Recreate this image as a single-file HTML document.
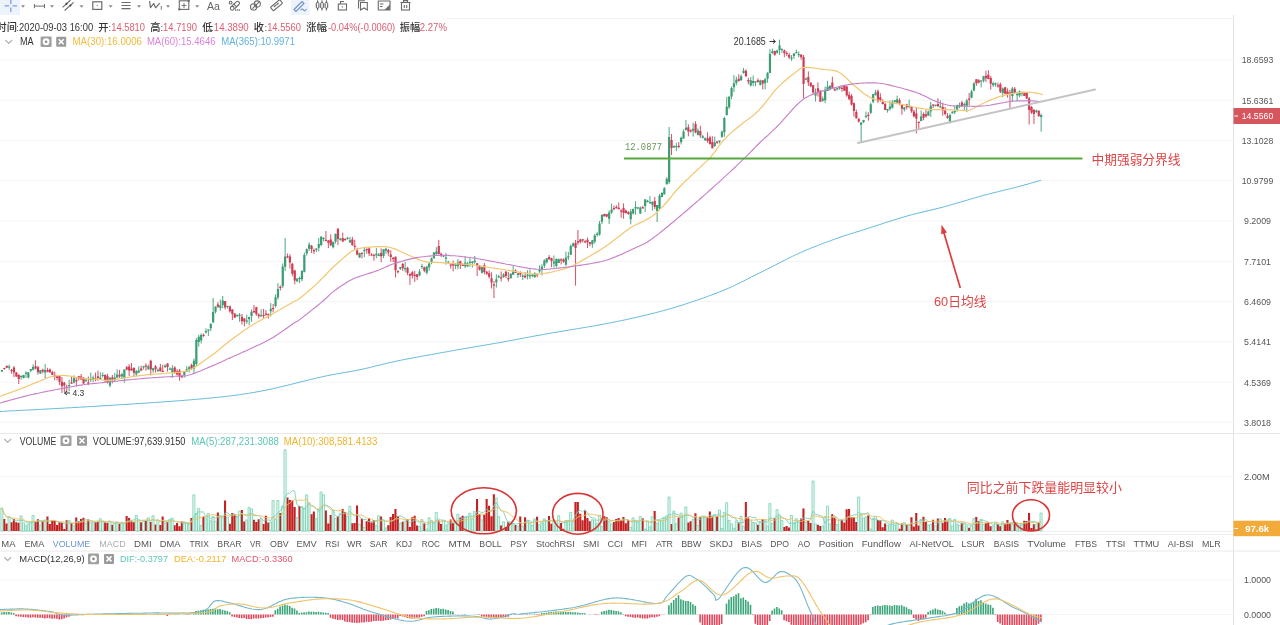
<!DOCTYPE html>
<html><head><meta charset="utf-8"><title>chart</title>
<style>html,body{margin:0;padding:0;background:#fff;width:1280px;height:625px;overflow:hidden;position:relative} #wrap{position:absolute;left:0;top:0;width:1280px;height:625px;filter:blur(0.5px)}</style>
</head><body><div id="wrap">
<svg width="1280" height="625" viewBox="0 0 1280 625" style="position:absolute;left:0;top:0">
<line x1="0" y1="59.9" x2="1234" y2="59.9" stroke="#f4f4f4" stroke-width="1"/>
<line x1="0" y1="100.2" x2="1234" y2="100.2" stroke="#f4f4f4" stroke-width="1"/>
<line x1="0" y1="140.5" x2="1234" y2="140.5" stroke="#f4f4f4" stroke-width="1"/>
<line x1="0" y1="180.7" x2="1234" y2="180.7" stroke="#f4f4f4" stroke-width="1"/>
<line x1="0" y1="221.0" x2="1234" y2="221.0" stroke="#f4f4f4" stroke-width="1"/>
<line x1="0" y1="261.3" x2="1234" y2="261.3" stroke="#f4f4f4" stroke-width="1"/>
<line x1="0" y1="301.6" x2="1234" y2="301.6" stroke="#f4f4f4" stroke-width="1"/>
<line x1="0" y1="341.9" x2="1234" y2="341.9" stroke="#f4f4f4" stroke-width="1"/>
<line x1="0" y1="382.1" x2="1234" y2="382.1" stroke="#f4f4f4" stroke-width="1"/>
<line x1="0" y1="422.4" x2="1234" y2="422.4" stroke="#f4f4f4" stroke-width="1"/>
<line x1="447" y1="18.5" x2="1234" y2="18.5" stroke="#f2f2f2"/>
<line x1="0" y1="476.5" x2="1234" y2="476.5" stroke="#f4f4f4"/>
<line x1="0" y1="580" x2="1234" y2="580" stroke="#f4f4f4"/>
<line x1="0" y1="614.5" x2="1234" y2="614.5" stroke="#f4f4f4"/>
<line x1="0" y1="433.5" x2="1280" y2="433.5" stroke="#e8e8e8"/>
<line x1="0" y1="531.5" x2="1234" y2="531.5" stroke="#eeeeee"/>
<line x1="0" y1="534.5" x2="1234" y2="534.5" stroke="#ececec"/>
<line x1="0" y1="551" x2="1280" y2="551" stroke="#e8e8e8"/>
<line x1="1233.5" y1="15" x2="1233.5" y2="625" stroke="#e3e3e3"/>
<path d="M0.0,411.5 L1.0,411.4 L2.2,411.4 L3.3,411.3 L4.6,411.3 L6.0,411.2 L7.4,411.1 L8.8,411.0 L10.4,410.9 L11.9,410.9 L13.6,410.8 L15.3,410.7 L17.1,410.6 L18.9,410.5 L20.7,410.4 L22.6,410.3 L24.6,410.2 L26.6,410.1 L28.6,410.0 L30.7,409.9 L32.8,409.8 L34.9,409.7 L37.1,409.5 L39.3,409.4 L41.5,409.3 L43.8,409.2 L46.0,409.1 L48.3,408.9 L50.6,408.8 L52.9,408.7 L55.2,408.6 L57.5,408.4 L59.9,408.3 L62.2,408.2 L64.5,408.1 L66.9,407.9 L69.2,407.8 L71.5,407.7 L73.8,407.5 L76.1,407.4 L78.4,407.3 L80.7,407.2 L82.9,407.0 L85.2,406.9 L87.4,406.8 L89.5,406.6 L91.7,406.5 L93.8,406.4 L95.9,406.3 L98.0,406.1 L100.0,406.0 L102.0,405.9 L104.0,405.7 L106.1,405.6 L108.1,405.5 L110.2,405.4 L112.3,405.2 L114.3,405.1 L116.4,405.0 L118.5,404.8 L120.6,404.7 L122.8,404.6 L124.9,404.4 L127.0,404.3 L129.1,404.2 L131.3,404.0 L133.4,403.9 L135.5,403.8 L137.7,403.6 L139.8,403.5 L141.9,403.3 L144.0,403.2 L146.2,403.1 L148.3,402.9 L150.4,402.8 L152.5,402.6 L154.6,402.5 L156.7,402.4 L158.8,402.2 L160.8,402.1 L162.9,401.9 L164.9,401.8 L166.9,401.6 L169.0,401.5 L171.0,401.3 L172.9,401.2 L174.9,401.1 L176.8,400.9 L178.8,400.8 L180.7,400.6 L182.6,400.5 L184.4,400.3 L186.3,400.2 L188.1,400.0 L189.9,399.9 L191.6,399.7 L193.4,399.6 L195.1,399.4 L196.7,399.3 L198.4,399.1 L200.0,399.0 L202.6,398.8 L205.2,398.5 L207.6,398.3 L210.0,398.1 L212.3,397.8 L214.5,397.6 L216.7,397.4 L218.8,397.2 L220.9,397.0 L222.9,396.7 L224.8,396.5 L226.8,396.3 L228.6,396.1 L230.5,395.9 L232.3,395.6 L234.2,395.4 L236.0,395.2 L237.7,394.9 L239.5,394.7 L241.3,394.4 L243.1,394.1 L244.9,393.9 L246.7,393.6 L248.5,393.3 L250.3,393.0 L252.2,392.7 L254.1,392.4 L256.0,392.0 L258.0,391.7 L260.0,391.3 L262.0,390.9 L264.0,390.5 L266.1,390.1 L268.1,389.7 L270.2,389.3 L272.3,388.8 L274.4,388.3 L276.6,387.8 L278.7,387.3 L280.9,386.8 L283.0,386.3 L285.2,385.8 L287.3,385.3 L289.5,384.7 L291.6,384.2 L293.7,383.7 L295.8,383.2 L297.9,382.6 L300.0,382.1 L302.1,381.6 L304.1,381.1 L306.1,380.6 L308.1,380.1 L310.0,379.6 L311.9,379.2 L313.8,378.7 L315.6,378.3 L317.4,377.8 L319.2,377.4 L320.9,377.1 L322.5,376.7 L325.2,376.1 L327.7,375.6 L330.2,375.1 L332.5,374.7 L334.6,374.3 L336.7,373.9 L338.8,373.5 L340.7,373.2 L342.6,372.9 L344.5,372.6 L346.3,372.2 L348.2,371.9 L350.1,371.6 L351.9,371.3 L353.9,370.9 L355.8,370.5 L357.9,370.1 L360.0,369.7 L361.9,369.3 L363.8,368.9 L365.7,368.4 L367.6,368.0 L369.5,367.6 L371.4,367.1 L373.2,366.6 L375.1,366.2 L377.0,365.7 L378.9,365.2 L380.9,364.8 L382.9,364.3 L384.9,363.8 L386.9,363.3 L389.1,362.8 L391.2,362.3 L393.5,361.8 L395.8,361.3 L398.1,360.8 L400.6,360.3 L402.4,359.9 L404.2,359.6 L406.1,359.2 L408.0,358.8 L410.0,358.5 L412.0,358.1 L414.1,357.7 L416.2,357.3 L418.3,356.9 L420.4,356.5 L422.6,356.1 L424.8,355.7 L427.0,355.3 L429.2,354.9 L431.4,354.5 L433.7,354.1 L435.9,353.7 L438.0,353.3 L440.2,352.9 L442.4,352.5 L444.5,352.2 L446.6,351.8 L448.7,351.4 L450.7,351.1 L452.6,350.7 L454.6,350.4 L456.4,350.0 L458.3,349.7 L460.0,349.4 L462.4,349.0 L464.7,348.6 L466.9,348.2 L469.1,347.8 L471.1,347.5 L473.1,347.1 L475.0,346.8 L476.8,346.5 L478.7,346.2 L480.5,345.9 L482.3,345.6 L484.1,345.3 L485.9,344.9 L487.8,344.6 L489.6,344.3 L491.6,344.0 L493.6,343.6 L495.6,343.3 L497.8,342.9 L500.0,342.5 L501.9,342.2 L503.7,341.8 L505.7,341.5 L507.6,341.1 L509.6,340.7 L511.7,340.4 L513.7,340.0 L515.8,339.6 L517.9,339.2 L520.0,338.8 L522.1,338.4 L524.2,338.0 L526.3,337.6 L528.5,337.2 L530.6,336.8 L532.8,336.4 L534.9,336.0 L537.1,335.6 L539.2,335.2 L541.3,334.9 L543.4,334.5 L545.5,334.1 L547.5,333.7 L549.6,333.4 L551.6,333.0 L553.7,332.6 L555.8,332.3 L557.9,331.9 L559.9,331.6 L562.0,331.2 L564.1,330.9 L566.2,330.5 L568.3,330.2 L570.4,329.8 L572.4,329.5 L574.5,329.2 L576.5,328.8 L578.6,328.5 L580.6,328.2 L582.6,327.8 L584.6,327.5 L586.6,327.2 L588.6,326.8 L590.5,326.5 L592.5,326.2 L594.4,325.8 L596.3,325.5 L598.1,325.1 L600.0,324.8 L602.2,324.4 L604.3,324.0 L606.5,323.6 L608.5,323.2 L610.6,322.8 L612.6,322.4 L614.6,322.0 L616.6,321.6 L618.6,321.2 L620.5,320.8 L622.5,320.4 L624.4,320.0 L626.3,319.6 L628.3,319.2 L630.2,318.7 L632.1,318.3 L634.1,317.9 L636.0,317.4 L638.0,317.0 L640.0,316.5 L642.0,316.0 L644.0,315.5 L646.0,315.1 L647.9,314.6 L649.9,314.1 L651.9,313.6 L653.9,313.1 L655.8,312.6 L657.8,312.1 L659.8,311.6 L661.7,311.1 L663.7,310.5 L665.7,310.0 L667.7,309.4 L669.7,308.9 L671.8,308.3 L673.8,307.7 L675.8,307.1 L677.9,306.4 L680.0,305.8 L682.0,305.2 L684.1,304.5 L686.1,303.8 L688.2,303.1 L690.4,302.4 L692.5,301.7 L694.7,301.0 L696.8,300.3 L699.0,299.5 L701.2,298.7 L703.3,298.0 L705.5,297.2 L707.6,296.4 L709.7,295.6 L711.8,294.9 L713.9,294.1 L716.0,293.3 L718.0,292.5 L719.9,291.7 L721.9,291.0 L723.8,290.2 L726.0,289.3 L728.2,288.3 L730.3,287.4 L732.3,286.5 L734.3,285.6 L736.2,284.6 L738.1,283.7 L740.0,282.8 L741.9,281.8 L743.8,280.9 L745.7,279.9 L747.6,279.0 L749.6,278.0 L751.6,276.9 L753.7,275.9 L755.8,274.8 L758.0,273.8 L759.8,272.8 L761.7,271.9 L763.7,270.9 L765.6,269.9 L767.7,268.9 L769.7,267.9 L771.7,266.8 L773.8,265.8 L775.9,264.7 L778.0,263.6 L780.1,262.5 L782.2,261.5 L784.3,260.4 L786.4,259.4 L788.4,258.3 L790.5,257.3 L792.5,256.3 L794.5,255.4 L796.5,254.5 L798.4,253.6 L800.3,252.7 L802.6,251.7 L804.9,250.7 L807.2,249.7 L809.5,248.8 L811.7,247.8 L813.9,247.0 L816.2,246.1 L818.4,245.2 L820.5,244.4 L822.6,243.6 L824.7,242.8 L826.8,242.1 L828.8,241.3 L830.7,240.6 L832.6,239.9 L834.5,239.3 L836.2,238.6 L838.8,237.7 L841.0,236.9 L843.0,236.2 L844.8,235.6 L846.6,235.1 L848.3,234.5 L850.2,234.0 L852.2,233.3 L854.4,232.6 L857.0,231.8 L860.0,230.9 L861.6,230.4 L863.3,229.9 L865.0,229.3 L866.9,228.7 L868.8,228.1 L870.8,227.4 L872.9,226.7 L875.0,226.1 L877.1,225.4 L879.3,224.7 L881.5,224.0 L883.7,223.3 L885.9,222.5 L888.2,221.8 L890.4,221.1 L892.6,220.4 L894.8,219.8 L896.9,219.1 L899.0,218.4 L901.1,217.8 L903.1,217.2 L905.0,216.6 L906.9,216.1 L909.2,215.4 L911.5,214.8 L913.7,214.2 L915.8,213.7 L917.9,213.2 L920.0,212.7 L922.0,212.2 L924.0,211.7 L926.0,211.2 L928.0,210.7 L930.0,210.3 L932.0,209.8 L934.0,209.3 L936.0,208.8 L938.1,208.3 L940.1,207.8 L942.3,207.3 L944.4,206.7 L946.4,206.2 L948.4,205.6 L950.4,205.0 L952.5,204.4 L954.6,203.8 L956.6,203.2 L958.8,202.6 L960.9,202.0 L963.0,201.4 L965.1,200.7 L967.2,200.1 L969.3,199.5 L971.4,198.9 L973.4,198.3 L975.4,197.7 L977.4,197.1 L979.4,196.6 L981.3,196.0 L983.2,195.5 L985.0,195.0 L987.4,194.4 L989.7,193.8 L991.9,193.2 L994.2,192.6 L996.3,192.1 L998.5,191.6 L1000.6,191.1 L1002.6,190.6 L1004.6,190.1 L1006.6,189.6 L1008.6,189.1 L1010.5,188.6 L1012.5,188.2 L1014.4,187.7 L1016.2,187.2 L1018.6,186.6 L1021.1,185.9 L1023.5,185.2 L1026.0,184.5 L1028.4,183.9 L1030.7,183.2 L1032.9,182.6 L1035.0,182.0 L1036.9,181.4 L1038.6,181.0 L1040.1,180.5 L1041.2,180.2" fill="none" stroke="#62b9d9" stroke-width="1"/>
<path d="M1.95,369.9V372.0M9.15,364.6V369.9M21.15,375.7V379.7M23.55,374.8V378.4M25.95,371.2V377.9M28.35,372.1V378.5M30.75,369.0V372.2M33.15,364.3V370.5M40.35,370.1V374.0M45.15,364.0V378.6M69.15,379.9V391.3M73.95,375.3V383.5M85.95,378.5V381.5M90.75,372.7V382.0M93.15,375.6V382.1M100.35,372.3V379.2M102.75,372.4V377.5M109.95,377.2V387.3M114.75,372.9V381.7M117.15,369.4V378.2M121.95,372.8V379.3M124.35,369.2V382.6M136.35,370.1V376.4M138.75,366.3V373.2M143.55,365.9V369.6M148.35,364.5V369.7M153.15,367.8V372.7M157.95,368.4V371.8M165.15,364.3V367.7M169.95,367.4V369.8M172.35,365.2V377.9M184.35,371.3V377.6M186.75,366.2V371.8M189.15,366.0V372.4M193.95,358.4V372.7M196.35,338.0V366.0M198.75,334.8V346.8M201.15,333.4V343.5M205.95,328.4V333.4M208.35,329.3V336.0M210.75,323.5V331.2M213.15,298.0V323.2M215.55,306.5V313.5M220.35,299.6V310.6M222.75,296.0V308.3M227.55,305.6V308.5M237.15,314.4V316.6M239.55,313.0V321.7M246.75,314.7V323.8M249.15,316.6V325.2M251.55,309.3V321.9M261.15,309.2V316.6M270.75,303.1V316.5M275.55,294.4V307.6M277.95,283.1V299.6M282.75,263.4V287.9M285.15,238.0V271.0M297.15,278.6V281.6M299.55,276.7V283.1M301.95,270.1V281.3M304.35,252.6V272.4M306.75,248.4V255.7M309.15,242.4V250.9M316.35,248.0V252.0M318.75,238.0V251.4M321.15,236.2V246.3M323.55,237.5V241.4M333.15,241.8V248.4M335.55,233.7V243.6M340.35,237.8V240.6M347.55,236.8V239.6M349.95,236.9V243.0M359.55,252.8V257.8M364.35,247.5V257.2M376.35,247.8V258.3M378.75,253.0V256.2M383.55,249.2V258.1M385.95,247.8V253.9M400.35,266.8V270.1M405.15,261.9V272.2M419.55,269.1V276.2M421.95,263.7V268.9M426.75,266.2V274.5M429.15,262.2V270.8M431.55,257.5V264.2M433.95,252.0V258.7M436.35,247.2V255.7M443.55,254.8V257.2M445.95,253.0V264.7M448.35,261.3V263.7M455.55,262.9V269.1M457.95,259.1V269.2M465.15,256.5V268.2M467.55,262.1V266.8M469.95,257.7V266.7M472.35,261.0V267.6M474.75,256.0V263.8M481.95,266.9V273.5M496.35,274.3V287.7M498.75,274.7V278.3M503.55,273.2V277.8M510.75,273.3V278.4M513.15,266.0V275.1M517.95,273.0V278.0M522.75,274.1V280.0M527.55,270.3V279.4M529.95,269.4V278.9M532.35,273.6V277.2M534.75,272.2V277.6M539.55,265.4V272.9M541.95,264.3V275.5M544.35,259.4V268.1M546.75,258.0V263.5M553.95,255.5V267.5M556.35,258.3V267.5M558.75,258.4V263.1M565.95,251.6V265.7M568.35,251.9V260.1M570.75,244.4V255.1M573.15,242.3V246.5M592.35,240.1V247.8M594.75,233.9V243.6M597.15,232.1V236.7M599.55,220.9V235.6M601.95,214.6V224.0M609.15,210.4V224.1M611.55,203.6V213.9M630.75,209.0V224.3M633.15,208.5V214.4M635.55,201.2V214.7M637.95,206.8V209.3M640.35,206.5V213.9M645.15,199.0V212.0M647.55,199.8V202.5M649.95,196.1V203.8M652.35,201.2V210.7M657.15,204.8V222.0M659.55,193.9V209.1M661.95,192.1V197.2M664.35,187.1V194.4M666.75,177.3V184.5M669.15,127.0V184.0M673.95,145.8V148.2M676.35,142.8V150.9M681.15,136.6V144.5M683.55,129.4V138.7M685.95,120.0V130.3M693.15,122.7V136.5M697.95,128.3V135.5M702.75,134.8V138.6M705.15,137.2V140.8M714.75,136.6V146.9M719.55,140.5V143.5M721.95,130.6V138.1M724.35,116.8V136.8M726.75,97.0V115.6M729.15,95.8V109.1M731.55,86.5V99.2M733.95,75.0V92.1M736.35,76.7V85.3M741.15,74.6V81.0M743.55,68.0V73.7M750.75,77.1V86.5M753.15,75.5V86.3M755.55,81.2V86.3M760.35,79.7V85.5M765.15,77.8V89.3M767.55,72.3V82.7M769.95,49.2V73.2M772.35,48.6V53.9M777.15,49.6V53.5M779.55,39.6V54.8M781.95,48.3V52.8M791.55,55.1V60.9M793.95,53.0V58.9M796.35,49.7V53.3M798.75,51.4V57.3M805.95,77.6V79.8M815.55,88.5V101.6M822.75,96.5V101.6M825.15,86.5V103.1M827.55,80.8V91.1M829.95,85.3V90.4M837.15,87.8V90.6M839.55,86.7V89.7M861.15,122.0V143.0M863.55,119.8V123.1M865.95,111.5V118.2M870.75,102.6V114.2M873.15,94.0V103.1M875.55,90.0V95.3M887.55,108.8V112.6M889.95,100.5V110.7M892.35,100.2V108.6M894.75,100.0V102.3M897.15,95.7V102.8M904.35,106.9V111.5M909.15,99.7V108.3M921.15,110.5V121.3M928.35,110.6V115.9M930.75,101.9V116.8M935.55,104.7V106.5M940.35,100.3V107.7M949.95,113.5V123.5M952.35,111.3V113.9M954.75,105.7V114.2M957.15,104.7V111.7M959.55,102.5V108.2M964.35,102.5V110.2M966.75,98.9V112.1M971.55,89.8V98.3M973.95,82.0V91.3M981.15,80.2V87.3M983.55,75.9V82.5M993.15,81.8V86.8M995.55,82.6V86.8M1002.75,87.5V97.3M1012.35,86.8V102.0M1017.15,91.6V101.3M1019.55,90.3V97.2M1021.95,91.7V96.3M1036.35,109.5V113.0M1041.15,113.5V131.7" stroke="#3a9d74" stroke-width="0.9" fill="none"/>
<path d="M0.85,370.0h2.2v1.5h-2.2zM8.05,366.5h2.2v1.2h-2.2zM20.05,375.7h2.2v1.2h-2.2zM22.45,375.0h2.2v3.0h-2.2zM24.85,372.8h2.2v1.2h-2.2zM27.25,372.3h2.2v5.1h-2.2zM29.65,369.0h2.2v1.7h-2.2zM32.05,366.8h2.2v3.0h-2.2zM39.25,370.1h2.2v3.3h-2.2zM44.05,370.0h2.2v2.6h-2.2zM68.05,384.9h2.2v1.2h-2.2zM72.85,377.9h2.2v4.7h-2.2zM84.85,380.1h2.2v1.2h-2.2zM89.65,378.7h2.2v1.2h-2.2zM92.05,377.4h2.2v2.2h-2.2zM99.25,377.8h2.2v1.2h-2.2zM101.65,374.9h2.2v1.2h-2.2zM108.85,377.8h2.2v7.8h-2.2zM113.65,377.6h2.2v3.0h-2.2zM116.05,374.4h2.2v3.1h-2.2zM120.85,374.2h2.2v2.4h-2.2zM123.25,369.4h2.2v8.6h-2.2zM135.25,370.9h2.2v3.3h-2.2zM137.65,370.4h2.2v2.2h-2.2zM142.45,366.3h2.2v1.3h-2.2zM147.25,366.3h2.2v2.9h-2.2zM152.05,368.3h2.2v2.2h-2.2zM156.85,369.7h2.2v1.5h-2.2zM164.05,365.4h2.2v1.9h-2.2zM168.85,368.5h2.2v1.2h-2.2zM171.25,368.2h2.2v4.1h-2.2zM183.25,371.6h2.2v3.3h-2.2zM185.65,369.2h2.2v2.3h-2.2zM188.05,367.3h2.2v1.7h-2.2zM192.85,360.8h2.2v7.9h-2.2zM195.25,340.0h2.2v24.0h-2.2zM197.65,336.8h2.2v5.2h-2.2zM200.05,335.1h2.2v5.4h-2.2zM204.85,330.9h2.2v1.6h-2.2zM207.25,329.5h2.2v1.3h-2.2zM209.65,323.7h2.2v4.5h-2.2zM212.05,312.0h2.2v10.3h-2.2zM214.45,306.6h2.2v5.2h-2.2zM219.25,305.3h2.2v2.6h-2.2zM221.65,300.6h2.2v4.5h-2.2zM226.45,305.9h2.2v1.2h-2.2zM236.05,315.1h2.2v1.2h-2.2zM238.45,314.8h2.2v1.2h-2.2zM245.65,320.5h2.2v1.2h-2.2zM248.05,317.1h2.2v2.1h-2.2zM250.45,311.7h2.2v4.2h-2.2zM260.05,315.2h2.2v1.3h-2.2zM269.65,308.7h2.2v2.5h-2.2zM274.45,297.3h2.2v8.8h-2.2zM276.85,289.1h2.2v8.4h-2.2zM281.65,266.5h2.2v19.6h-2.2zM284.05,256.6h2.2v10.2h-2.2zM296.05,278.6h2.2v2.8h-2.2zM298.45,277.9h2.2v1.2h-2.2zM300.85,270.9h2.2v8.3h-2.2zM303.25,254.9h2.2v16.8h-2.2zM305.65,249.3h2.2v4.3h-2.2zM308.05,244.4h2.2v4.4h-2.2zM315.25,248.5h2.2v1.2h-2.2zM317.65,243.9h2.2v3.8h-2.2zM320.05,236.7h2.2v8.3h-2.2zM322.45,237.8h2.2v1.3h-2.2zM332.05,241.8h2.2v5.5h-2.2zM334.45,233.8h2.2v7.7h-2.2zM339.25,238.7h2.2v1.2h-2.2zM346.45,237.7h2.2v1.2h-2.2zM348.85,240.2h2.2v2.4h-2.2zM358.45,253.0h2.2v4.6h-2.2zM363.25,250.0h2.2v1.2h-2.2zM375.25,253.8h2.2v1.4h-2.2zM377.65,254.5h2.2v1.4h-2.2zM382.45,249.3h2.2v6.8h-2.2zM384.85,248.7h2.2v2.0h-2.2zM399.25,267.1h2.2v1.7h-2.2zM404.05,267.9h2.2v1.4h-2.2zM418.45,271.6h2.2v3.6h-2.2zM420.85,265.9h2.2v1.2h-2.2zM425.65,266.4h2.2v6.3h-2.2zM428.05,263.6h2.2v3.6h-2.2zM430.45,258.2h2.2v4.2h-2.2zM432.85,252.6h2.2v5.6h-2.2zM435.25,251.4h2.2v2.7h-2.2zM442.45,255.4h2.2v1.2h-2.2zM444.85,257.5h2.2v1.2h-2.2zM447.25,261.4h2.2v1.2h-2.2zM454.45,264.6h2.2v1.5h-2.2zM456.85,262.4h2.2v3.8h-2.2zM464.05,262.5h2.2v3.7h-2.2zM466.45,263.2h2.2v3.3h-2.2zM468.85,261.7h2.2v1.2h-2.2zM471.25,261.8h2.2v1.2h-2.2zM473.65,260.5h2.2v1.7h-2.2zM480.85,267.3h2.2v5.5h-2.2zM495.25,279.3h2.2v3.0h-2.2zM497.65,276.2h2.2v1.2h-2.2zM502.45,274.6h2.2v2.5h-2.2zM509.65,273.7h2.2v4.5h-2.2zM512.05,271.4h2.2v3.3h-2.2zM516.85,273.2h2.2v1.9h-2.2zM521.65,275.6h2.2v1.2h-2.2zM526.45,274.7h2.2v1.2h-2.2zM528.85,275.2h2.2v1.2h-2.2zM531.25,274.8h2.2v1.2h-2.2zM533.65,273.5h2.2v3.7h-2.2zM538.45,269.4h2.2v2.1h-2.2zM540.85,266.4h2.2v3.2h-2.2zM543.25,260.4h2.2v5.3h-2.2zM545.65,258.3h2.2v3.9h-2.2zM552.85,261.5h2.2v2.1h-2.2zM555.25,258.9h2.2v7.1h-2.2zM557.65,259.2h2.2v3.7h-2.2zM564.85,257.6h2.2v7.2h-2.2zM567.25,256.2h2.2v1.2h-2.2zM569.65,245.9h2.2v8.8h-2.2zM572.05,243.4h2.2v2.8h-2.2zM591.25,240.3h2.2v3.9h-2.2zM593.65,235.5h2.2v6.0h-2.2zM596.05,233.7h2.2v1.2h-2.2zM598.45,223.6h2.2v11.0h-2.2zM600.85,214.8h2.2v7.0h-2.2zM608.05,212.5h2.2v6.3h-2.2zM610.45,209.6h2.2v2.9h-2.2zM629.65,211.5h2.2v7.7h-2.2zM632.05,208.9h2.2v4.5h-2.2zM634.45,207.1h2.2v1.5h-2.2zM636.85,207.4h2.2v1.2h-2.2zM639.25,207.6h2.2v5.8h-2.2zM644.05,199.5h2.2v6.5h-2.2zM646.45,200.7h2.2v1.2h-2.2zM648.85,202.1h2.2v1.2h-2.2zM651.25,202.0h2.2v2.7h-2.2zM656.05,204.9h2.2v6.0h-2.2zM658.45,195.7h2.2v12.6h-2.2zM660.85,192.9h2.2v4.0h-2.2zM663.25,188.3h2.2v6.0h-2.2zM665.65,178.8h2.2v5.4h-2.2zM668.05,137.0h2.2v45.0h-2.2zM672.85,145.8h2.2v1.4h-2.2zM675.25,146.0h2.2v1.2h-2.2zM680.05,137.7h2.2v4.6h-2.2zM682.45,131.6h2.2v6.8h-2.2zM684.85,127.8h2.2v2.3h-2.2zM692.05,128.7h2.2v2.0h-2.2zM696.85,130.5h2.2v4.4h-2.2zM701.65,136.2h2.2v1.5h-2.2zM704.05,138.2h2.2v2.0h-2.2zM713.65,142.6h2.2v3.3h-2.2zM718.45,140.6h2.2v1.2h-2.2zM720.85,131.6h2.2v5.2h-2.2zM723.25,118.1h2.2v14.2h-2.2zM725.65,106.7h2.2v8.3h-2.2zM728.05,96.7h2.2v10.6h-2.2zM730.45,87.9h2.2v8.6h-2.2zM732.85,83.2h2.2v4.1h-2.2zM735.25,79.7h2.2v3.3h-2.2zM740.05,76.3h2.2v3.6h-2.2zM742.45,70.7h2.2v2.2h-2.2zM749.65,80.3h2.2v5.2h-2.2zM752.05,81.1h2.2v1.8h-2.2zM754.45,81.3h2.2v1.2h-2.2zM759.25,80.4h2.2v4.5h-2.2zM764.05,79.2h2.2v4.1h-2.2zM766.45,72.8h2.2v5.9h-2.2zM768.85,53.9h2.2v19.1h-2.2zM771.25,51.2h2.2v1.8h-2.2zM776.05,50.6h2.2v2.1h-2.2zM778.45,45.6h2.2v4.3h-2.2zM780.85,48.9h2.2v1.2h-2.2zM790.45,57.6h2.2v1.2h-2.2zM792.85,53.6h2.2v2.5h-2.2zM795.25,52.0h2.2v1.2h-2.2zM797.65,53.9h2.2v1.3h-2.2zM804.85,78.5h2.2v1.3h-2.2zM814.45,92.2h2.2v3.3h-2.2zM821.65,98.8h2.2v1.9h-2.2zM824.05,89.7h2.2v10.5h-2.2zM826.45,86.8h2.2v4.2h-2.2zM828.85,85.7h2.2v3.9h-2.2zM836.05,88.2h2.2v1.2h-2.2zM838.45,86.8h2.2v1.8h-2.2zM860.05,122.5h2.2v2.2h-2.2zM862.45,120.0h2.2v2.1h-2.2zM864.85,115.7h2.2v1.2h-2.2zM869.65,104.2h2.2v8.6h-2.2zM872.05,94.3h2.2v7.4h-2.2zM874.45,92.6h2.2v2.6h-2.2zM886.45,109.0h2.2v1.6h-2.2zM888.85,106.5h2.2v2.6h-2.2zM891.25,102.2h2.2v5.6h-2.2zM893.65,100.3h2.2v2.0h-2.2zM896.05,99.3h2.2v3.4h-2.2zM903.25,107.4h2.2v2.2h-2.2zM908.05,105.7h2.2v1.2h-2.2zM920.05,116.5h2.2v4.4h-2.2zM927.25,111.6h2.2v4.1h-2.2zM929.65,105.8h2.2v5.6h-2.2zM934.45,104.8h2.2v1.2h-2.2zM939.25,106.3h2.2v1.2h-2.2zM948.85,115.0h2.2v8.1h-2.2zM951.25,111.8h2.2v1.2h-2.2zM953.65,111.0h2.2v1.2h-2.2zM956.05,104.9h2.2v4.7h-2.2zM958.45,104.9h2.2v1.5h-2.2zM963.25,104.1h2.2v1.2h-2.2zM965.65,100.4h2.2v5.7h-2.2zM970.45,91.5h2.2v6.3h-2.2zM972.85,83.4h2.2v7.1h-2.2zM980.05,80.4h2.2v1.2h-2.2zM982.45,76.2h2.2v4.5h-2.2zM992.05,83.3h2.2v2.0h-2.2zM994.45,83.2h2.2v1.2h-2.2zM1001.65,88.4h2.2v4.6h-2.2zM1011.25,88.4h2.2v7.6h-2.2zM1016.05,94.1h2.2v1.2h-2.2zM1018.45,91.6h2.2v3.9h-2.2zM1020.85,92.3h2.2v1.2h-2.2zM1035.25,110.5h2.2v1.5h-2.2zM1040.05,115.0h2.2v2.0h-2.2z" fill="#3a9d74"/>
<path d="M4.35,367.8V369.8M6.75,365.7V368.1M11.55,368.9V373.7M13.95,366.2V377.0M16.35,372.0V376.8M18.75,373.8V384.0M35.55,360.3V369.3M37.95,365.8V374.6M42.75,368.6V373.3M47.55,367.8V372.3M49.95,368.4V372.9M52.35,370.8V375.1M54.75,371.5V380.3M57.15,375.9V380.3M59.55,375.7V385.1M61.95,377.0V393.0M64.35,382.0V392.0M66.75,384.7V392.0M71.55,376.5V383.7M76.35,377.6V386.5M78.75,375.9V380.5M81.15,374.0V379.4M83.55,377.0V383.8M88.35,376.5V385.1M95.55,372.5V381.2M97.95,370.6V380.8M105.15,374.7V382.4M107.55,373.8V383.5M112.35,374.9V383.3M119.55,369.9V377.9M126.75,365.9V370.2M129.15,364.2V375.9M131.55,363.0V370.8M133.95,367.6V377.0M141.15,365.7V371.1M145.95,363.4V370.7M150.75,359.7V375.5M155.55,365.0V372.5M160.35,363.9V371.5M162.75,364.7V371.9M167.55,363.1V371.6M174.75,366.2V373.8M177.15,369.2V375.6M179.55,368.8V380.7M181.95,374.7V378.2M191.55,363.7V369.8M203.55,333.6V336.9M217.95,302.1V307.8M225.15,301.1V309.5M229.95,305.5V312.7M232.35,309.1V320.0M234.75,313.4V318.1M241.95,313.9V324.5M244.35,318.1V326.4M253.95,305.1V313.1M256.35,306.7V315.8M258.75,313.3V318.5M263.55,308.9V318.0M265.95,310.0V315.8M268.35,313.5V318.6M273.15,304.0V312.3M280.35,285.4V290.5M287.55,253.5V258.2M289.95,254.1V268.6M292.35,262.9V276.2M294.75,269.9V284.3M311.55,245.0V253.0M313.95,248.5V254.0M325.95,231.0V241.5M328.35,240.0V248.1M330.75,234.4V246.2M337.95,228.2V245.2M342.75,232.6V242.0M345.15,238.1V240.5M352.35,236.8V245.7M354.75,239.8V250.0M357.15,247.7V255.4M361.95,252.7V258.4M366.75,248.6V253.7M369.15,247.1V256.1M371.55,253.1V255.9M373.95,253.6V260.7M381.15,248.3V262.2M388.35,248.9V255.6M390.75,250.3V261.6M393.15,257.2V262.1M395.55,256.5V277.6M397.95,270.4V273.4M402.75,262.9V271.0M407.55,266.8V275.2M409.95,273.7V284.8M412.35,271.0V278.6M414.75,270.8V281.9M417.15,273.9V280.2M424.35,266.7V272.3M438.75,239.9V254.5M441.15,252.5V257.1M450.75,264.2V268.6M453.15,260.6V271.4M460.35,260.6V269.0M462.75,263.4V266.0M477.15,263.0V276.0M479.55,265.0V270.5M484.35,263.0V274.4M486.75,271.0V275.1M489.15,270.5V278.6M491.55,272.3V288.5M493.95,281.0V298.0M501.15,271.3V281.6M505.95,271.5V278.0M508.35,272.1V281.6M515.55,269.3V273.1M520.35,271.3V277.0M525.15,272.1V278.4M537.15,273.5V277.1M549.15,255.0V259.7M551.55,257.7V267.2M561.15,258.4V264.5M563.55,258.4V262.9M575.55,240.0V285.6M577.95,230.0V244.8M580.35,238.9V243.5M582.75,239.2V242.6M585.15,240.2V242.8M587.55,237.5V248.0M589.95,242.0V246.2M604.35,213.7V216.7M606.75,213.9V217.4M613.95,205.6V210.2M616.35,205.2V208.5M618.75,202.5V209.3M621.15,209.2V217.8M623.55,203.3V218.7M625.95,209.6V213.6M628.35,211.2V214.9M642.75,205.8V208.4M654.75,196.9V209.2M671.55,134.0V155.0M678.75,142.0V148.2M688.35,124.3V136.3M690.75,129.3V132.6M695.55,121.2V133.3M700.35,125.8V137.8M707.55,132.3V142.8M709.95,135.7V144.7M712.35,136.2V148.3M717.15,140.9V143.9M738.75,74.2V81.6M745.95,69.3V76.9M748.35,77.8V84.3M757.95,78.3V82.6M762.75,80.3V89.5M774.75,50.6V55.8M784.35,49.5V57.2M786.75,51.2V56.0M789.15,52.7V58.9M801.15,54.4V59.6M803.55,55.0V98.0M808.35,71.3V86.0M810.75,82.1V87.1M813.15,84.8V93.5M817.95,82.3V96.6M820.35,90.5V102.1M832.35,76.7V88.1M834.75,88.1V91.1M841.95,85.6V91.7M844.35,84.8V90.9M846.75,85.6V96.8M849.15,91.7V100.4M851.55,94.0V105.5M853.95,102.4V116.7M856.35,109.6V118.7M858.75,117.9V122.6M868.35,112.2V120.6M877.95,89.4V102.9M880.35,93.2V101.7M882.75,99.2V104.5M885.15,102.6V110.0M899.55,98.1V105.3M901.95,104.2V114.8M906.75,103.8V109.4M911.55,105.8V112.8M913.95,109.8V117.4M916.35,107.5V133.5M918.75,121.5V128.9M923.55,112.4V120.2M925.95,110.0V117.8M933.15,104.2V108.1M937.95,98.3V106.8M942.75,102.6V115.7M945.15,106.8V115.5M947.55,113.1V118.8M961.95,100.9V107.1M969.15,93.0V105.7M976.35,79.0V85.8M978.75,79.1V83.5M985.95,70.7V82.0M988.35,70.2V79.3M990.75,75.9V89.7M997.95,82.7V87.7M1000.35,82.6V93.1M1005.15,86.9V93.8M1007.55,88.4V97.6M1009.95,89.8V108.6M1014.75,87.0V93.3M1024.35,92.4V95.9M1026.75,92.0V99.0M1029.15,97.0V124.6M1031.55,106.0V114.0M1033.95,109.0V124.0M1038.75,110.0V117.0" stroke="#cf3d55" stroke-width="0.9" fill="none"/>
<path d="M3.25,367.9h2.2v1.2h-2.2zM5.65,365.8h2.2v1.9h-2.2zM10.45,369.9h2.2v1.2h-2.2zM12.85,367.4h2.2v5.0h-2.2zM15.25,372.4h2.2v4.0h-2.2zM17.65,375.1h2.2v3.8h-2.2zM34.45,366.3h2.2v2.3h-2.2zM36.85,367.2h2.2v5.1h-2.2zM41.65,369.8h2.2v1.6h-2.2zM46.45,369.9h2.2v1.8h-2.2zM48.85,369.6h2.2v2.6h-2.2zM51.25,372.0h2.2v3.1h-2.2zM53.65,375.2h2.2v1.2h-2.2zM56.05,376.0h2.2v2.1h-2.2zM58.45,376.3h2.2v5.5h-2.2zM60.85,381.7h2.2v4.5h-2.2zM63.25,382.8h2.2v2.6h-2.2zM65.65,386.7h2.2v1.6h-2.2zM70.45,382.5h2.2v1.2h-2.2zM75.25,380.1h2.2v1.2h-2.2zM77.65,376.3h2.2v2.3h-2.2zM80.05,376.5h2.2v2.9h-2.2zM82.45,377.8h2.2v5.7h-2.2zM87.25,382.5h2.2v1.2h-2.2zM94.45,378.5h2.2v1.2h-2.2zM96.85,376.3h2.2v1.8h-2.2zM104.05,374.8h2.2v5.2h-2.2zM106.45,376.3h2.2v5.6h-2.2zM111.25,377.2h2.2v2.9h-2.2zM118.45,374.7h2.2v1.8h-2.2zM125.65,367.3h2.2v2.2h-2.2zM128.05,366.5h2.2v3.9h-2.2zM130.45,368.4h2.2v2.1h-2.2zM132.85,367.8h2.2v5.0h-2.2zM140.05,368.5h2.2v2.0h-2.2zM144.85,365.6h2.2v1.2h-2.2zM149.65,360.7h2.2v8.8h-2.2zM154.45,366.2h2.2v3.0h-2.2zM159.25,367.6h2.2v3.7h-2.2zM161.65,370.7h2.2v1.2h-2.2zM166.45,363.4h2.2v3.5h-2.2zM173.65,367.4h2.2v5.3h-2.2zM176.05,370.9h2.2v3.5h-2.2zM178.45,370.6h2.2v6.1h-2.2zM180.85,376.0h2.2v1.2h-2.2zM190.45,365.1h2.2v3.7h-2.2zM202.45,334.8h2.2v1.2h-2.2zM216.85,304.5h2.2v2.2h-2.2zM224.05,301.1h2.2v6.3h-2.2zM228.85,306.5h2.2v4.7h-2.2zM231.25,309.4h2.2v4.6h-2.2zM233.65,313.5h2.2v3.9h-2.2zM240.85,316.8h2.2v4.4h-2.2zM243.25,318.4h2.2v3.2h-2.2zM252.85,311.1h2.2v1.2h-2.2zM255.25,307.3h2.2v6.9h-2.2zM257.65,314.4h2.2v1.8h-2.2zM262.45,314.9h2.2v1.2h-2.2zM264.85,313.5h2.2v1.2h-2.2zM267.25,314.0h2.2v1.2h-2.2zM272.05,308.1h2.2v1.2h-2.2zM279.25,286.7h2.2v1.2h-2.2zM286.45,256.3h2.2v1.2h-2.2zM288.85,256.6h2.2v6.0h-2.2zM291.25,263.7h2.2v10.0h-2.2zM293.65,270.4h2.2v10.1h-2.2zM310.45,245.7h2.2v3.5h-2.2zM312.85,250.0h2.2v1.2h-2.2zM324.85,239.8h2.2v1.2h-2.2zM327.25,240.5h2.2v2.2h-2.2zM329.65,239.6h2.2v5.7h-2.2zM336.85,228.7h2.2v10.4h-2.2zM341.65,237.9h2.2v3.7h-2.2zM344.05,238.9h2.2v1.3h-2.2zM351.25,239.4h2.2v5.8h-2.2zM353.65,245.8h2.2v1.2h-2.2zM356.05,250.4h2.2v4.0h-2.2zM360.85,252.8h2.2v1.2h-2.2zM365.65,248.8h2.2v1.2h-2.2zM368.05,248.4h2.2v5.2h-2.2zM370.45,254.4h2.2v1.2h-2.2zM372.85,254.9h2.2v1.2h-2.2zM380.05,252.9h2.2v3.3h-2.2zM387.25,249.9h2.2v2.6h-2.2zM389.65,254.6h2.2v2.3h-2.2zM392.05,257.7h2.2v1.2h-2.2zM394.45,256.7h2.2v13.5h-2.2zM396.85,271.0h2.2v1.2h-2.2zM401.65,263.9h2.2v4.3h-2.2zM406.45,267.8h2.2v5.3h-2.2zM408.85,273.7h2.2v2.0h-2.2zM411.25,272.3h2.2v3.1h-2.2zM413.65,274.7h2.2v1.2h-2.2zM416.05,274.3h2.2v2.6h-2.2zM423.25,267.3h2.2v3.5h-2.2zM437.65,245.9h2.2v8.2h-2.2zM440.05,253.8h2.2v1.7h-2.2zM449.65,264.6h2.2v1.2h-2.2zM452.05,264.1h2.2v1.4h-2.2zM459.25,261.3h2.2v3.6h-2.2zM461.65,264.8h2.2v1.2h-2.2zM476.05,263.2h2.2v2.6h-2.2zM478.45,265.7h2.2v4.1h-2.2zM483.25,265.3h2.2v6.7h-2.2zM485.65,271.7h2.2v2.0h-2.2zM488.05,273.2h2.2v3.5h-2.2zM490.45,278.3h2.2v4.2h-2.2zM492.85,284.6h2.2v1.2h-2.2zM500.05,277.3h2.2v1.2h-2.2zM504.85,271.5h2.2v4.4h-2.2zM507.25,278.1h2.2v1.2h-2.2zM514.45,270.4h2.2v2.6h-2.2zM519.25,272.7h2.2v1.9h-2.2zM524.05,275.7h2.2v1.9h-2.2zM536.05,274.0h2.2v1.2h-2.2zM548.05,257.0h2.2v2.2h-2.2zM550.45,258.3h2.2v2.8h-2.2zM560.05,259.3h2.2v1.2h-2.2zM562.45,259.6h2.2v2.2h-2.2zM574.45,243.0h2.2v5.0h-2.2zM576.85,241.2h2.2v1.6h-2.2zM579.25,239.5h2.2v2.6h-2.2zM581.65,239.2h2.2v1.2h-2.2zM584.05,241.2h2.2v1.2h-2.2zM586.45,239.8h2.2v2.5h-2.2zM588.85,242.1h2.2v1.7h-2.2zM603.25,214.1h2.2v2.1h-2.2zM605.65,214.2h2.2v2.3h-2.2zM612.85,208.1h2.2v1.2h-2.2zM615.25,206.9h2.2v1.3h-2.2zM617.65,207.7h2.2v1.5h-2.2zM620.05,210.6h2.2v1.2h-2.2zM622.45,207.9h2.2v4.8h-2.2zM624.85,210.6h2.2v2.4h-2.2zM627.25,212.3h2.2v1.8h-2.2zM641.65,207.2h2.2v1.2h-2.2zM653.65,201.0h2.2v6.0h-2.2zM670.45,140.0h2.2v8.0h-2.2zM677.65,145.7h2.2v1.2h-2.2zM687.25,127.2h2.2v4.2h-2.2zM689.65,130.2h2.2v1.2h-2.2zM694.45,124.1h2.2v8.3h-2.2zM699.25,131.0h2.2v4.5h-2.2zM706.45,138.3h2.2v2.8h-2.2zM708.85,137.5h2.2v6.5h-2.2zM711.25,142.1h2.2v6.2h-2.2zM716.05,141.6h2.2v1.2h-2.2zM737.65,78.7h2.2v2.4h-2.2zM744.85,70.7h2.2v5.5h-2.2zM747.25,79.9h2.2v1.6h-2.2zM756.85,80.2h2.2v1.8h-2.2zM761.65,80.3h2.2v3.2h-2.2zM773.65,51.1h2.2v3.7h-2.2zM783.25,50.6h2.2v2.7h-2.2zM785.65,52.9h2.2v1.2h-2.2zM788.05,54.7h2.2v2.7h-2.2zM800.05,54.4h2.2v2.9h-2.2zM802.45,57.0h2.2v27.0h-2.2zM807.25,77.1h2.2v5.5h-2.2zM809.65,82.7h2.2v3.6h-2.2zM812.05,85.3h2.2v7.3h-2.2zM816.85,88.3h2.2v3.5h-2.2zM819.25,90.5h2.2v11.3h-2.2zM831.25,82.6h2.2v5.1h-2.2zM833.65,89.2h2.2v1.2h-2.2zM840.85,87.8h2.2v1.2h-2.2zM843.25,85.2h2.2v5.6h-2.2zM845.65,86.6h2.2v8.9h-2.2zM848.05,94.8h2.2v4.1h-2.2zM850.45,95.9h2.2v8.7h-2.2zM852.85,103.3h2.2v7.8h-2.2zM855.25,111.9h2.2v6.4h-2.2zM857.65,118.9h2.2v2.7h-2.2zM867.25,114.7h2.2v1.2h-2.2zM876.85,91.3h2.2v10.0h-2.2zM879.25,97.3h2.2v3.1h-2.2zM881.65,101.9h2.2v2.2h-2.2zM884.05,103.9h2.2v6.0h-2.2zM898.45,100.2h2.2v3.2h-2.2zM900.85,104.2h2.2v4.6h-2.2zM905.65,104.5h2.2v2.8h-2.2zM910.45,107.1h2.2v4.1h-2.2zM912.85,111.6h2.2v4.6h-2.2zM915.25,113.5h2.2v4.9h-2.2zM917.65,121.7h2.2v1.2h-2.2zM922.45,114.0h2.2v3.7h-2.2zM924.85,114.3h2.2v1.9h-2.2zM932.05,104.4h2.2v1.4h-2.2zM936.85,103.9h2.2v2.4h-2.2zM941.65,107.0h2.2v3.6h-2.2zM944.05,110.5h2.2v3.5h-2.2zM946.45,116.0h2.2v2.0h-2.2zM960.85,102.6h2.2v3.6h-2.2zM968.05,98.4h2.2v1.3h-2.2zM975.25,79.2h2.2v4.0h-2.2zM977.65,80.3h2.2v2.1h-2.2zM984.85,75.8h2.2v2.4h-2.2zM987.25,74.7h2.2v4.2h-2.2zM989.65,77.9h2.2v5.8h-2.2zM996.85,85.2h2.2v1.2h-2.2zM999.25,84.2h2.2v7.6h-2.2zM1004.05,87.3h2.2v6.5h-2.2zM1006.45,91.4h2.2v2.8h-2.2zM1008.85,92.6h2.2v1.2h-2.2zM1013.65,88.8h2.2v4.2h-2.2zM1023.25,92.9h2.2v3.0h-2.2zM1025.65,93.0h2.2v5.4h-2.2zM1028.05,98.4h2.2v11.6h-2.2zM1030.45,107.0h2.2v5.5h-2.2zM1032.85,110.0h2.2v4.0h-2.2zM1037.65,111.0h2.2v5.0h-2.2z" fill="#cf3d55"/>
<path d="M0.0,396.4 L1.2,396.0 L2.7,395.4 L4.5,394.7 L6.6,394.0 L8.8,393.2 L11.0,392.4 L13.4,391.5 L15.7,390.6 L17.9,389.8 L20.0,389.0 L22.0,388.2 L24.2,387.4 L26.3,386.5 L28.5,385.7 L30.6,384.8 L32.7,383.9 L34.7,383.1 L36.6,382.4 L38.4,381.6 L40.0,381.0 L42.6,379.9 L44.7,379.0 L46.5,378.2 L48.2,377.6 L50.0,377.0 L52.0,376.5 L54.0,376.1 L56.0,375.8 L58.0,375.6 L60.0,375.5 L62.0,375.4 L64.0,375.5 L66.0,375.6 L68.0,375.8 L70.0,376.0 L71.8,376.3 L73.5,376.7 L75.3,377.2 L77.4,377.6 L80.0,378.0 L81.6,378.2 L83.5,378.3 L85.6,378.5 L87.8,378.7 L90.0,378.8 L92.2,379.0 L94.4,379.1 L96.5,379.3 L98.4,379.4 L100.0,379.5 L102.5,379.8 L104.2,380.1 L105.8,380.3 L107.5,380.4 L110.0,380.3 L111.6,380.1 L113.4,379.9 L115.3,379.6 L117.3,379.2 L119.4,378.9 L121.5,378.5 L123.7,378.1 L125.8,377.7 L128.0,377.3 L130.0,377.0 L132.0,376.7 L134.0,376.4 L136.0,376.1 L138.0,375.9 L140.0,375.6 L142.0,375.3 L144.0,375.1 L146.0,374.8 L148.0,374.6 L150.0,374.4 L152.0,374.2 L154.0,374.1 L156.0,374.0 L158.0,373.8 L160.0,373.8 L162.0,373.6 L164.0,373.5 L166.0,373.4 L168.0,373.2 L170.0,373.0 L172.0,372.8 L174.0,372.6 L176.0,372.4 L178.0,372.3 L180.0,372.1 L181.9,371.8 L183.9,371.4 L185.9,371.0 L188.0,370.4 L190.0,369.6 L192.0,368.7 L194.1,367.6 L196.2,366.4 L198.3,365.0 L200.3,363.6 L202.4,362.1 L204.5,360.6 L206.6,359.1 L208.7,357.5 L210.8,356.0 L212.9,354.5 L215.0,352.9 L217.0,351.2 L219.1,349.5 L221.2,347.8 L223.3,346.1 L225.4,344.4 L227.4,342.7 L229.5,341.1 L231.6,339.5 L233.7,338.0 L235.8,336.4 L237.8,334.9 L239.9,333.4 L242.0,331.9 L244.1,330.5 L246.2,329.1 L248.2,327.7 L250.3,326.3 L252.4,325.0 L254.5,323.7 L256.6,322.5 L258.6,321.3 L260.7,320.2 L262.8,319.1 L264.9,318.0 L267.0,316.9 L269.0,315.8 L271.1,314.7 L273.2,313.5 L275.3,312.3 L277.6,311.0 L279.9,309.7 L282.2,308.3 L284.5,307.0 L286.7,305.7 L288.8,304.5 L290.8,303.4 L292.5,302.3 L294.0,301.5 L296.7,300.2 L297.7,299.8 L300.0,298.2 L301.6,296.9 L303.4,295.4 L305.5,293.6 L307.7,291.7 L310.0,289.7 L312.3,287.7 L314.6,285.6 L316.8,283.6 L318.9,281.6 L321.0,279.5 L323.1,277.4 L325.2,275.2 L327.3,273.0 L329.4,270.9 L331.5,268.8 L333.6,266.8 L335.8,264.8 L338.0,262.7 L340.3,260.7 L342.6,258.6 L344.8,256.7 L346.8,255.0 L348.7,253.5 L350.4,252.2 L353.6,250.2 L355.9,249.5 L358.0,249.0 L360.1,248.4 L362.1,247.9 L365.0,247.5 L366.7,247.3 L368.8,247.1 L371.0,247.0 L373.4,246.8 L375.7,246.7 L377.9,246.6 L380.0,246.6 L382.1,246.6 L384.0,246.7 L385.8,246.7 L387.6,247.0 L389.7,247.4 L392.0,248.0 L393.8,248.6 L395.8,249.4 L397.9,250.3 L400.0,251.2 L402.3,252.2 L404.5,253.3 L406.6,254.3 L408.7,255.2 L410.6,256.0 L412.9,257.0 L415.0,257.9 L417.1,258.9 L419.0,259.7 L421.0,260.5 L423.0,261.2 L425.0,261.7 L427.0,262.1 L428.9,262.3 L430.9,262.3 L432.8,262.4 L434.9,262.4 L437.0,262.4 L439.4,262.5 L441.2,262.6 L443.2,262.8 L445.3,262.9 L447.5,263.1 L449.7,263.3 L451.9,263.4 L454.1,263.6 L456.1,263.8 L458.0,263.9 L459.6,264.0 L462.3,264.1 L464.5,264.2 L466.3,264.3 L468.1,264.4 L470.0,264.5 L471.7,264.7 L473.1,264.9 L474.7,265.2 L476.8,265.5 L480.0,266.0 L481.5,266.2 L483.1,266.5 L484.9,266.7 L486.8,267.0 L488.8,267.4 L490.9,267.7 L493.0,268.0 L495.2,268.4 L497.5,268.7 L499.7,269.0 L502.0,269.4 L504.2,269.7 L506.3,270.0 L508.4,270.3 L510.4,270.6 L512.5,270.9 L514.5,271.3 L516.6,271.7 L518.7,272.1 L520.7,272.4 L522.8,272.8 L524.8,273.1 L526.9,273.4 L529.0,273.6 L531.0,273.8 L533.1,274.0 L535.1,274.0 L537.2,274.0 L539.3,273.9 L541.4,273.7 L543.5,273.5 L545.7,273.2 L547.9,272.8 L550.0,272.4 L552.2,272.0 L554.3,271.5 L556.4,271.0 L558.5,270.5 L560.5,269.9 L562.4,269.4 L564.2,268.8 L566.0,268.3 L568.6,267.4 L570.9,266.5 L573.1,265.5 L575.2,264.4 L577.2,263.3 L579.2,262.2 L581.1,261.0 L583.1,259.9 L585.2,258.7 L587.4,257.5 L589.5,256.3 L591.7,255.0 L593.9,253.7 L596.1,252.4 L598.3,251.1 L600.4,249.8 L602.4,248.5 L604.4,247.2 L606.8,245.5 L609.2,243.8 L611.4,242.2 L613.6,240.5 L615.7,238.8 L617.8,237.2 L619.8,235.7 L622.1,234.0 L624.2,232.3 L626.3,230.7 L628.4,229.2 L630.4,227.8 L632.4,226.5 L634.8,225.2 L637.2,224.1 L639.5,223.1 L641.7,222.1 L644.0,221.0 L646.2,219.8 L648.4,218.6 L650.5,217.3 L652.6,215.9 L654.8,214.2 L657.0,212.3 L659.3,210.1 L661.5,207.9 L663.8,205.5 L666.0,203.0 L668.1,200.5 L670.2,198.0 L672.2,195.3 L674.5,192.5 L677.2,189.5 L679.1,187.5 L681.2,185.3 L683.5,183.1 L685.8,180.8 L688.2,178.6 L690.5,176.3 L692.8,174.1 L695.0,172.0 L697.4,169.7 L699.7,167.6 L702.0,165.5 L704.3,163.4 L706.5,161.4 L708.6,159.2 L710.7,157.0 L713.0,154.2 L715.2,151.4 L717.3,148.4 L719.4,145.5 L721.5,142.7 L723.8,140.0 L725.8,137.9 L727.9,135.8 L730.0,133.9 L732.2,131.9 L734.5,130.0 L736.8,128.0 L739.2,126.0 L741.2,124.4 L743.2,122.8 L745.3,121.3 L747.5,119.7 L749.7,118.1 L751.9,116.4 L754.1,114.6 L756.2,112.7 L758.4,110.7 L760.5,108.4 L762.7,106.0 L764.8,103.3 L766.9,100.6 L769.1,97.8 L771.2,95.1 L773.3,92.4 L775.5,89.9 L777.6,87.6 L779.8,85.4 L782.1,83.3 L784.4,81.2 L786.8,79.2 L789.1,77.3 L791.3,75.6 L793.3,74.0 L795.2,72.5 L796.8,71.3 L799.8,68.9 L801.5,67.8 L804.5,67.4 L806.1,67.4 L808.1,67.4 L810.2,67.6 L812.5,67.8 L814.8,68.1 L817.2,68.4 L819.5,68.8 L821.7,69.1 L823.7,69.4 L826.1,69.7 L828.4,69.9 L830.5,70.0 L832.6,70.3 L834.7,70.7 L836.8,71.3 L839.0,72.3 L841.2,73.7 L843.4,75.4 L845.6,77.4 L847.8,79.5 L850.0,81.7 L852.2,83.8 L854.4,85.7 L856.6,87.5 L858.8,89.3 L861.0,91.1 L863.1,92.9 L865.3,94.5 L867.6,95.9 L869.8,97.2 L871.8,98.1 L873.8,98.9 L875.8,99.5 L877.8,100.0 L879.8,100.5 L881.9,100.9 L883.9,101.4 L886.0,101.8 L888.1,102.2 L890.1,102.6 L892.2,103.0 L894.3,103.3 L896.4,103.6 L898.6,103.9 L900.8,104.3 L903.2,104.7 L905.2,105.1 L907.2,105.5 L909.4,106.0 L911.5,106.5 L913.7,107.0 L915.9,107.5 L918.2,107.9 L920.4,108.3 L922.6,108.7 L924.8,109.0 L927.0,109.2 L929.3,109.4 L931.5,109.5 L933.8,109.5 L936.1,109.6 L938.3,109.6 L940.5,109.6 L942.6,109.6 L944.6,109.6 L946.5,109.7 L949.0,109.8 L951.3,109.9 L953.5,110.1 L955.5,110.2 L957.4,110.3 L959.2,110.4 L960.9,110.4 L963.5,110.5 L965.5,110.7 L967.6,110.6 L970.0,110.0 L971.8,109.3 L973.8,108.3 L975.8,107.2 L977.9,106.0 L980.3,104.7 L982.8,103.5 L984.6,102.7 L986.6,101.8 L988.6,100.9 L990.7,99.9 L992.9,99.0 L995.1,98.1 L997.4,97.3 L999.7,96.5 L1002.0,95.8 L1004.0,95.3 L1006.0,94.8 L1008.1,94.3 L1010.3,93.9 L1012.5,93.5 L1014.7,93.1 L1016.8,92.8 L1019.0,92.5 L1021.1,92.3 L1023.1,92.1 L1025.0,92.0 L1027.3,92.0 L1029.7,92.2 L1032.0,92.5 L1034.3,92.8 L1036.5,93.2 L1038.5,93.6 L1040.3,94.0 L1041.8,94.3 L1043.0,94.5" fill="none" stroke="#f2c873" stroke-width="1.25"/>
<path d="M0.0,403.0 L1.1,402.7 L2.5,402.3 L4.0,401.9 L5.8,401.4 L7.7,400.9 L9.7,400.3 L11.9,399.7 L14.1,399.1 L16.4,398.5 L18.7,397.9 L21.0,397.2 L23.4,396.6 L25.6,396.1 L27.9,395.5 L30.0,395.0 L32.0,394.5 L34.0,394.1 L36.1,393.6 L38.2,393.2 L40.3,392.7 L42.4,392.3 L44.6,391.9 L46.7,391.4 L48.8,391.0 L50.9,390.6 L53.0,390.2 L55.0,389.8 L57.0,389.5 L58.9,389.1 L60.7,388.7 L62.5,388.4 L64.9,387.9 L67.2,387.5 L69.3,387.1 L71.4,386.7 L73.3,386.4 L75.2,386.0 L77.1,385.7 L79.0,385.4 L81.0,385.1 L82.9,384.8 L85.0,384.5 L87.0,384.2 L88.9,384.0 L90.9,383.8 L92.9,383.6 L94.9,383.4 L97.0,383.2 L99.0,383.0 L101.0,382.8 L103.0,382.6 L105.0,382.4 L107.0,382.2 L109.0,382.0 L111.1,381.8 L113.2,381.5 L115.3,381.3 L117.4,381.1 L119.5,380.8 L121.5,380.6 L123.6,380.4 L125.7,380.1 L127.8,379.9 L129.9,379.7 L132.0,379.5 L134.0,379.3 L135.9,379.1 L137.9,379.0 L139.9,378.8 L141.9,378.6 L143.9,378.4 L145.9,378.3 L148.0,378.1 L150.0,378.0 L152.0,377.8 L154.0,377.6 L156.0,377.5 L158.0,377.4 L160.2,377.2 L162.3,377.1 L164.5,377.0 L166.7,376.8 L168.9,376.7 L171.0,376.6 L173.0,376.5 L175.0,376.3 L176.8,376.2 L178.5,376.1 L180.0,376.0 L182.7,375.9 L184.5,375.8 L185.9,375.8 L187.5,375.5 L190.0,374.8 L191.6,374.3 L193.5,373.6 L195.4,372.9 L197.5,372.0 L199.7,371.2 L202.0,370.2 L204.2,369.3 L206.5,368.3 L208.7,367.4 L210.8,366.5 L212.9,365.6 L215.0,364.7 L217.0,363.8 L219.1,362.9 L221.2,361.9 L223.3,361.0 L225.4,360.0 L227.4,359.1 L229.5,358.1 L231.6,357.2 L233.7,356.3 L235.8,355.3 L237.8,354.4 L239.9,353.5 L242.0,352.6 L244.1,351.6 L246.2,350.7 L248.2,349.7 L250.3,348.8 L252.4,347.8 L254.5,346.8 L256.6,345.8 L258.6,344.9 L260.7,343.9 L262.8,342.9 L264.9,341.9 L267.0,340.8 L269.0,339.8 L271.1,338.6 L273.2,337.4 L275.3,336.1 L277.6,334.6 L279.9,333.0 L282.2,331.4 L284.5,329.8 L286.7,328.2 L288.8,326.7 L290.8,325.3 L292.5,324.0 L294.0,323.0 L296.5,321.5 L297.3,321.3 L300.0,319.4 L301.5,318.3 L303.2,316.9 L305.2,315.3 L307.4,313.6 L309.7,311.8 L312.1,309.9 L314.4,308.0 L316.7,306.2 L318.8,304.5 L320.7,302.9 L322.4,301.5 L325.3,299.0 L327.4,297.0 L329.3,295.1 L331.2,293.4 L333.6,291.4 L335.5,290.0 L337.5,288.5 L339.7,287.0 L342.0,285.4 L344.3,284.0 L346.5,282.5 L348.5,281.3 L350.4,280.2 L352.9,278.9 L355.0,278.0 L357.0,277.3 L359.1,276.6 L361.6,275.8 L363.4,275.2 L365.5,274.5 L367.6,273.8 L369.8,273.1 L372.0,272.4 L374.2,271.7 L376.4,270.9 L378.4,270.2 L380.6,269.3 L382.6,268.4 L384.7,267.5 L386.6,266.6 L388.7,265.7 L390.8,264.8 L393.0,264.0 L395.1,263.3 L397.3,262.6 L399.6,261.9 L401.9,261.2 L404.2,260.6 L406.5,259.9 L408.6,259.4 L410.6,258.9 L412.9,258.4 L415.0,257.9 L416.9,257.6 L418.8,257.3 L421.0,257.0 L423.6,256.7 L425.4,256.5 L427.2,256.3 L429.2,256.1 L431.2,255.9 L433.3,255.7 L435.5,255.5 L437.8,255.4 L440.1,255.3 L442.5,255.3 L445.0,255.3 L446.8,255.4 L448.7,255.4 L450.6,255.6 L452.6,255.7 L454.6,255.8 L456.6,256.0 L458.7,256.2 L460.8,256.4 L462.9,256.7 L465.1,256.9 L467.3,257.2 L469.5,257.5 L471.7,257.8 L474.0,258.1 L475.9,258.4 L477.8,258.7 L479.8,259.0 L481.8,259.4 L483.9,259.8 L486.0,260.2 L488.1,260.6 L490.2,261.0 L492.3,261.4 L494.4,261.8 L496.5,262.2 L498.5,262.6 L500.6,263.0 L502.6,263.4 L504.6,263.8 L506.5,264.2 L508.4,264.5 L510.7,264.9 L512.9,265.3 L515.1,265.7 L517.3,266.2 L519.5,266.6 L521.6,267.0 L523.8,267.4 L525.8,267.7 L527.9,268.1 L529.8,268.4 L531.8,268.7 L533.6,268.9 L535.5,269.1 L537.2,269.3 L539.7,269.5 L541.9,269.5 L544.0,269.5 L545.9,269.4 L547.7,269.3 L549.6,269.1 L551.7,268.8 L553.9,268.6 L556.4,268.3 L558.2,268.1 L560.1,267.9 L562.1,267.7 L564.2,267.4 L566.4,267.1 L568.6,266.9 L570.8,266.6 L573.0,266.3 L575.2,266.0 L577.4,265.7 L579.5,265.4 L581.5,265.1 L583.4,264.8 L585.2,264.5 L587.8,264.1 L590.2,263.7 L592.5,263.3 L594.6,262.9 L596.7,262.5 L598.6,262.1 L600.6,261.7 L602.5,261.2 L604.4,260.7 L606.8,260.0 L609.1,259.2 L611.3,258.5 L613.4,257.6 L615.5,256.8 L617.6,255.9 L619.8,255.0 L622.0,254.1 L624.2,253.1 L626.3,252.1 L628.5,251.1 L630.7,250.1 L632.8,249.1 L635.0,248.0 L637.1,247.0 L639.0,246.2 L640.9,245.3 L642.9,244.4 L645.1,243.3 L647.5,241.9 L650.3,240.0 L652.0,238.8 L653.7,237.5 L655.6,236.1 L657.5,234.7 L659.5,233.1 L661.6,231.5 L663.7,229.8 L665.8,228.0 L668.1,226.2 L670.3,224.3 L672.6,222.5 L674.9,220.5 L677.2,218.6 L679.1,217.0 L681.1,215.3 L683.1,213.6 L685.2,211.8 L687.3,210.0 L689.5,208.2 L691.6,206.3 L693.8,204.4 L696.0,202.5 L698.2,200.6 L700.3,198.7 L702.5,196.8 L704.6,194.9 L706.7,193.1 L708.7,191.3 L710.7,189.5 L713.0,187.5 L715.2,185.4 L717.5,183.4 L719.8,181.3 L722.1,179.2 L724.3,177.1 L726.5,175.1 L728.7,173.1 L730.8,171.1 L732.8,169.3 L734.7,167.5 L736.5,165.8 L738.2,164.2 L739.8,162.7 L742.9,159.7 L745.5,157.2 L747.6,155.1 L749.3,153.3 L751.0,151.7 L752.6,150.0 L755.1,147.4 L757.0,145.5 L760.0,142.5 L761.7,140.9 L763.6,139.1 L765.8,137.2 L768.1,135.1 L770.4,132.9 L772.8,130.7 L775.3,128.3 L777.6,126.0 L779.7,123.8 L781.9,121.4 L784.1,118.9 L786.3,116.4 L788.6,113.8 L790.8,111.3 L792.9,109.0 L794.9,106.9 L796.8,105.0 L799.2,102.7 L801.3,100.9 L803.2,99.3 L805.2,98.0 L807.5,96.7 L810.3,95.3 L812.0,94.6 L813.9,93.9 L815.9,93.1 L818.0,92.4 L820.2,91.8 L822.4,91.1 L824.7,90.4 L826.9,89.8 L829.1,89.2 L831.2,88.6 L833.3,88.1 L835.2,87.6 L837.6,87.0 L839.8,86.4 L841.9,85.9 L843.9,85.5 L845.9,85.1 L847.9,84.7 L850.0,84.4 L852.1,84.1 L854.4,83.8 L856.4,83.6 L858.4,83.4 L860.5,83.2 L862.6,83.1 L864.8,83.0 L867.0,82.9 L869.1,82.8 L871.3,82.8 L873.3,82.8 L875.4,82.9 L877.3,83.0 L879.5,83.2 L881.7,83.5 L883.7,83.8 L885.7,84.2 L887.7,84.6 L889.7,85.1 L891.7,85.6 L893.8,86.2 L896.0,86.7 L898.1,87.2 L900.2,87.8 L902.4,88.3 L904.6,89.0 L906.9,89.6 L909.1,90.2 L911.3,90.9 L913.5,91.6 L915.6,92.3 L917.6,93.0 L920.0,93.9 L922.3,95.0 L924.6,96.0 L926.8,97.1 L928.9,98.2 L931.0,99.2 L933.0,100.2 L935.0,101.0 L937.2,101.9 L939.4,102.6 L941.5,103.3 L943.5,104.0 L945.5,104.5 L947.4,105.0 L949.3,105.4 L951.6,105.8 L953.7,105.9 L955.7,106.0 L958.1,106.0 L961.0,106.0 L962.8,106.0 L964.8,106.1 L966.9,106.1 L969.1,106.2 L971.4,106.2 L973.8,106.3 L976.1,106.2 L978.4,106.2 L980.7,106.1 L982.8,106.0 L985.1,105.8 L987.4,105.5 L989.6,105.2 L991.9,104.8 L994.0,104.4 L996.2,104.0 L998.2,103.6 L1000.2,103.2 L1002.0,102.9 L1004.4,102.5 L1006.5,102.1 L1008.4,101.8 L1010.3,101.4 L1012.4,101.2 L1014.8,101.0 L1016.7,100.9 L1018.9,100.8 L1021.2,100.8 L1023.6,100.8 L1026.0,100.8 L1028.3,100.8 L1030.5,100.9 L1032.4,100.9 L1034.0,101.0 L1037.3,101.4 L1039.2,101.8 L1040.4,102.2" fill="none" stroke="#c982c9" stroke-width="1.15"/>
<line x1="858" y1="143" x2="1095" y2="89.5" stroke="#c4c4c4" stroke-width="2" stroke-linecap="round"/>
<line x1="624" y1="158.5" x2="1082.5" y2="158.5" stroke="#58a83c" stroke-width="2"/>
<text x="625" y="150" font-family="Liberation Mono, monospace" font-size="10" fill="#68985a" textLength="37" lengthAdjust="spacingAndGlyphs">12.0877</text>
<text x="1091.5" y="163.6" font-family="Liberation Sans, Noto Sans CJK SC, sans-serif" font-size="12.8" fill="#dd4444" textLength="89" lengthAdjust="spacingAndGlyphs">中期强弱分界线</text>
<path d="M960.3,288.1 L943.6,231.8" stroke="#e03c3c" stroke-width="1.7" fill="none"/>
<path d="M941.5,224.8 L946.94,232.58 L941.18,234.29 Z" fill="#e03c3c"/>
<text x="934" y="306" font-family="Liberation Sans, Noto Sans CJK SC, sans-serif" font-size="12.8" fill="#dd4444" textLength="52.4" lengthAdjust="spacingAndGlyphs">60日均线</text>
<text x="733.8" y="44.5" font-family="Liberation Sans, sans-serif" font-size="10" fill="#333" textLength="32" lengthAdjust="spacingAndGlyphs">20.1685</text>
<path d="M769.5,41.5 H775 M773,39.5 L775.5,41.5 L773,43.5" stroke="#333" stroke-width="1" fill="none"/>
<path d="M70,393 H64.5 M67,391 L64.5,393 L67,395" stroke="#333" stroke-width="1" fill="none"/>
<text x="72.5" y="396.3" font-family="Liberation Sans, sans-serif" font-size="9" fill="#333" textLength="11.8" lengthAdjust="spacingAndGlyphs">4.3</text>
<path d="M3.20,519.0h2.1v12.0h-2.1zM5.60,523.5h2.1v7.5h-2.1zM10.40,522.3h2.1v8.7h-2.1zM12.80,519.0h2.1v12.0h-2.1zM15.20,522.3h2.1v8.7h-2.1zM17.60,522.7h2.1v8.3h-2.1zM34.40,521.4h2.1v9.6h-2.1zM36.80,519.2h2.1v11.8h-2.1zM41.60,520.9h2.1v10.1h-2.1zM46.40,516.6h2.1v14.4h-2.1zM48.80,524.1h2.1v6.9h-2.1zM51.20,520.2h2.1v10.8h-2.1zM53.60,521.1h2.1v9.9h-2.1zM56.00,525.1h2.1v5.9h-2.1zM58.40,522.1h2.1v8.9h-2.1zM60.80,522.8h2.1v8.2h-2.1zM63.20,529.0h2.1v2.0h-2.1zM65.60,520.2h2.1v10.8h-2.1zM70.40,523.3h2.1v7.7h-2.1zM75.20,517.6h2.1v13.4h-2.1zM77.60,521.2h2.1v9.8h-2.1zM80.00,518.9h2.1v12.1h-2.1zM82.40,517.8h2.1v13.2h-2.1zM87.20,519.6h2.1v11.4h-2.1zM94.40,522.3h2.1v8.7h-2.1zM96.80,522.0h2.1v9.0h-2.1zM104.00,522.5h2.1v8.5h-2.1zM106.40,522.8h2.1v8.2h-2.1zM111.20,524.7h2.1v6.3h-2.1zM118.40,523.7h2.1v7.3h-2.1zM125.60,516.0h2.1v15.0h-2.1zM128.00,518.0h2.1v13.0h-2.1zM130.40,520.7h2.1v10.3h-2.1zM132.80,522.2h2.1v8.8h-2.1zM140.00,522.3h2.1v8.7h-2.1zM144.80,521.1h2.1v9.9h-2.1zM149.60,522.1h2.1v8.9h-2.1zM154.40,524.6h2.1v6.4h-2.1zM159.20,525.0h2.1v6.0h-2.1zM161.60,516.5h2.1v14.5h-2.1zM166.40,522.2h2.1v8.8h-2.1zM173.60,525.3h2.1v5.7h-2.1zM176.00,523.0h2.1v8.0h-2.1zM178.40,526.2h2.1v4.8h-2.1zM180.80,521.6h2.1v9.4h-2.1zM190.40,517.9h2.1v13.1h-2.1zM202.40,516.6h2.1v14.4h-2.1zM216.80,512.5h2.1v18.5h-2.1zM224.00,500.5h2.1v30.5h-2.1zM228.80,523.8h2.1v7.2h-2.1zM231.20,513.0h2.1v18.0h-2.1zM233.60,514.6h2.1v16.4h-2.1zM240.80,509.9h2.1v21.1h-2.1zM243.20,521.5h2.1v9.5h-2.1zM252.80,519.7h2.1v11.3h-2.1zM255.20,521.9h2.1v9.1h-2.1zM257.60,519.2h2.1v11.8h-2.1zM262.40,523.9h2.1v7.1h-2.1zM264.80,515.8h2.1v15.2h-2.1zM267.20,522.4h2.1v8.6h-2.1zM279.20,512.9h2.1v18.1h-2.1zM286.40,497.6h2.1v33.4h-2.1zM288.80,500.0h2.1v31.0h-2.1zM291.20,500.5h2.1v30.5h-2.1zM293.60,507.1h2.1v23.9h-2.1zM298.40,506.0h2.1v25.0h-2.1zM310.40,514.2h2.1v16.8h-2.1zM312.80,511.5h2.1v19.5h-2.1zM324.80,510.4h2.1v20.6h-2.1zM327.20,523.6h2.1v7.4h-2.1zM329.60,515.0h2.1v16.0h-2.1zM336.80,516.2h2.1v14.8h-2.1zM341.60,508.9h2.1v22.1h-2.1zM344.00,512.0h2.1v19.0h-2.1zM351.20,523.2h2.1v7.8h-2.1zM353.60,523.0h2.1v8.0h-2.1zM356.00,505.5h2.1v25.5h-2.1zM360.80,518.4h2.1v12.6h-2.1zM365.60,521.3h2.1v9.7h-2.1zM368.00,518.1h2.1v12.9h-2.1zM370.40,522.5h2.1v8.5h-2.1zM372.80,520.0h2.1v11.0h-2.1zM380.00,516.6h2.1v14.4h-2.1zM387.20,525.2h2.1v5.8h-2.1zM389.60,517.1h2.1v13.9h-2.1zM392.00,514.1h2.1v16.9h-2.1zM394.40,509.0h2.1v22.0h-2.1zM396.80,516.0h2.1v15.0h-2.1zM401.60,521.8h2.1v9.2h-2.1zM406.40,519.3h2.1v11.7h-2.1zM408.80,527.1h2.1v3.9h-2.1zM411.20,517.2h2.1v13.8h-2.1zM413.60,515.7h2.1v15.3h-2.1zM416.00,525.6h2.1v5.4h-2.1zM423.20,523.6h2.1v7.4h-2.1zM437.60,520.4h2.1v10.6h-2.1zM440.00,524.0h2.1v7.0h-2.1zM449.60,519.5h2.1v11.5h-2.1zM452.00,523.2h2.1v7.8h-2.1zM459.20,517.6h2.1v13.4h-2.1zM461.60,515.8h2.1v15.2h-2.1zM476.00,499.0h2.1v32.0h-2.1zM478.40,514.3h2.1v16.7h-2.1zM483.20,514.7h2.1v16.3h-2.1zM485.60,499.0h2.1v32.0h-2.1zM488.00,505.7h2.1v25.3h-2.1zM490.40,516.3h2.1v14.7h-2.1zM492.80,494.3h2.1v36.7h-2.1zM500.00,525.6h2.1v5.4h-2.1zM504.80,527.2h2.1v3.8h-2.1zM507.20,521.7h2.1v9.3h-2.1zM514.40,525.0h2.1v6.0h-2.1zM519.20,516.4h2.1v14.6h-2.1zM524.00,517.3h2.1v13.7h-2.1zM536.00,516.8h2.1v14.2h-2.1zM548.00,516.0h2.1v15.0h-2.1zM550.40,523.7h2.1v7.3h-2.1zM560.00,522.9h2.1v8.1h-2.1zM562.40,528.8h2.1v2.2h-2.1zM574.40,502.0h2.1v29.0h-2.1zM576.80,502.0h2.1v29.0h-2.1zM579.20,513.7h2.1v17.3h-2.1zM581.60,520.3h2.1v10.7h-2.1zM584.00,510.6h2.1v20.4h-2.1zM586.40,517.9h2.1v13.1h-2.1zM588.80,521.2h2.1v9.8h-2.1zM603.20,516.3h2.1v14.7h-2.1zM605.60,517.2h2.1v13.8h-2.1zM612.80,521.9h2.1v9.1h-2.1zM615.20,519.1h2.1v11.9h-2.1zM617.60,518.0h2.1v13.0h-2.1zM620.00,519.9h2.1v11.1h-2.1zM622.40,517.0h2.1v14.0h-2.1zM624.80,523.2h2.1v7.8h-2.1zM627.20,520.1h2.1v10.9h-2.1zM641.60,518.2h2.1v12.8h-2.1zM653.60,511.0h2.1v20.0h-2.1zM670.40,523.9h2.1v7.1h-2.1zM677.60,517.6h2.1v13.4h-2.1zM687.20,522.5h2.1v8.5h-2.1zM689.60,521.3h2.1v9.7h-2.1zM694.40,513.3h2.1v17.7h-2.1zM699.20,516.7h2.1v14.3h-2.1zM706.40,516.7h2.1v14.3h-2.1zM708.80,511.4h2.1v19.6h-2.1zM711.20,516.6h2.1v14.4h-2.1zM716.00,516.2h2.1v14.8h-2.1zM737.60,522.4h2.1v8.6h-2.1zM744.80,502.0h2.1v29.0h-2.1zM747.20,517.6h2.1v13.4h-2.1zM756.80,524.7h2.1v6.3h-2.1zM761.60,519.0h2.1v12.0h-2.1zM773.60,518.2h2.1v12.8h-2.1zM783.20,527.1h2.1v3.9h-2.1zM785.60,526.1h2.1v4.9h-2.1zM788.00,527.4h2.1v3.6h-2.1zM800.00,518.5h2.1v12.5h-2.1zM802.40,508.4h2.1v22.6h-2.1zM807.20,520.7h2.1v10.3h-2.1zM809.60,523.0h2.1v8.0h-2.1zM816.80,524.7h2.1v6.3h-2.1zM819.20,525.9h2.1v5.1h-2.1zM831.20,514.2h2.1v16.8h-2.1zM833.60,517.7h2.1v13.3h-2.1zM840.80,520.2h2.1v10.8h-2.1zM843.20,522.5h2.1v8.5h-2.1zM845.60,509.3h2.1v21.7h-2.1zM848.00,509.0h2.1v22.0h-2.1zM850.40,517.1h2.1v13.9h-2.1zM852.80,517.3h2.1v13.7h-2.1zM855.20,521.9h2.1v9.1h-2.1zM867.20,515.5h2.1v15.5h-2.1zM876.80,520.1h2.1v10.9h-2.1zM879.20,520.0h2.1v11.0h-2.1zM881.60,527.2h2.1v3.8h-2.1zM884.00,523.4h2.1v7.6h-2.1zM898.40,528.7h2.1v2.3h-2.1zM900.80,523.5h2.1v7.5h-2.1zM905.60,525.1h2.1v5.9h-2.1zM910.40,517.3h2.1v13.7h-2.1zM912.80,526.6h2.1v4.4h-2.1zM915.20,513.0h2.1v18.0h-2.1zM917.60,525.4h2.1v5.6h-2.1zM922.40,516.7h2.1v14.3h-2.1zM924.80,522.0h2.1v9.0h-2.1zM932.00,519.8h2.1v11.2h-2.1zM936.80,518.6h2.1v12.4h-2.1zM941.60,522.8h2.1v8.2h-2.1zM944.00,518.0h2.1v13.0h-2.1zM946.40,520.8h2.1v10.2h-2.1zM960.80,522.7h2.1v8.3h-2.1zM968.00,527.8h2.1v3.2h-2.1zM975.20,517.1h2.1v13.9h-2.1zM977.60,521.0h2.1v10.0h-2.1zM984.80,523.2h2.1v7.8h-2.1zM987.20,522.2h2.1v8.8h-2.1zM989.60,526.2h2.1v4.8h-2.1zM996.80,524.0h2.1v7.0h-2.1zM999.20,526.2h2.1v4.8h-2.1zM1004.00,523.8h2.1v7.2h-2.1zM1006.40,519.9h2.1v11.1h-2.1zM1008.80,523.0h2.1v8.0h-2.1zM1013.60,522.6h2.1v8.4h-2.1zM1023.20,520.8h2.1v10.2h-2.1zM1025.60,521.1h2.1v9.9h-2.1zM1028.00,513.0h2.1v18.0h-2.1zM1030.40,528.1h2.1v2.9h-2.1zM1032.80,524.2h2.1v6.8h-2.1zM1037.60,522.5h2.1v8.5h-2.1z" fill="#c42222"/>
<path d="M0.80,508.0h2.1v23.0h-2.1zM8.00,516.8h2.1v14.2h-2.1zM20.00,515.9h2.1v15.1h-2.1zM22.40,522.9h2.1v8.1h-2.1zM24.80,525.8h2.1v5.2h-2.1zM27.20,524.1h2.1v6.9h-2.1zM29.60,523.0h2.1v8.0h-2.1zM32.00,515.5h2.1v15.5h-2.1zM39.20,525.0h2.1v6.0h-2.1zM44.00,520.0h2.1v11.0h-2.1zM68.00,520.4h2.1v10.6h-2.1zM72.80,526.0h2.1v5.0h-2.1zM84.80,523.6h2.1v7.4h-2.1zM89.60,522.7h2.1v8.3h-2.1zM92.00,522.2h2.1v8.8h-2.1zM99.20,518.7h2.1v12.3h-2.1zM101.60,521.6h2.1v9.4h-2.1zM108.80,521.0h2.1v10.0h-2.1zM113.60,523.5h2.1v7.5h-2.1zM116.00,522.2h2.1v8.8h-2.1zM120.80,522.4h2.1v8.6h-2.1zM123.20,523.8h2.1v7.2h-2.1zM135.20,515.4h2.1v15.6h-2.1zM137.60,521.0h2.1v10.0h-2.1zM142.40,521.1h2.1v9.9h-2.1zM147.20,517.8h2.1v13.2h-2.1zM152.00,515.7h2.1v15.3h-2.1zM156.80,519.9h2.1v11.1h-2.1zM164.00,523.0h2.1v8.0h-2.1zM168.80,519.2h2.1v11.8h-2.1zM171.20,518.2h2.1v12.8h-2.1zM183.20,522.3h2.1v8.7h-2.1zM185.60,523.0h2.1v8.0h-2.1zM188.00,524.1h2.1v6.9h-2.1zM192.80,494.8h2.1v36.2h-2.1zM195.20,513.4h2.1v17.6h-2.1zM197.60,508.4h2.1v22.6h-2.1zM200.00,525.7h2.1v5.3h-2.1zM204.80,518.1h2.1v12.9h-2.1zM207.20,513.5h2.1v17.5h-2.1zM209.60,520.8h2.1v10.2h-2.1zM212.00,516.7h2.1v14.3h-2.1zM214.40,521.2h2.1v9.8h-2.1zM219.20,515.5h2.1v15.5h-2.1zM221.60,516.8h2.1v14.2h-2.1zM226.40,517.2h2.1v13.8h-2.1zM236.00,516.8h2.1v14.2h-2.1zM238.40,511.1h2.1v19.9h-2.1zM245.60,519.9h2.1v11.1h-2.1zM248.00,507.5h2.1v23.5h-2.1zM250.40,508.9h2.1v22.1h-2.1zM260.00,518.5h2.1v12.5h-2.1zM269.60,522.1h2.1v8.9h-2.1zM272.00,500.5h2.1v30.5h-2.1zM274.40,519.4h2.1v11.6h-2.1zM276.80,500.5h2.1v30.5h-2.1zM281.60,506.1h2.1v24.9h-2.1zM284.00,449.8h2.1v81.2h-2.1zM296.00,517.6h2.1v13.4h-2.1zM300.80,506.7h2.1v24.3h-2.1zM303.20,508.1h2.1v22.9h-2.1zM305.60,494.8h2.1v36.2h-2.1zM308.00,502.8h2.1v28.2h-2.1zM315.20,518.7h2.1v12.3h-2.1zM317.60,509.5h2.1v21.5h-2.1zM320.00,492.0h2.1v39.0h-2.1zM322.40,494.8h2.1v36.2h-2.1zM332.00,510.3h2.1v20.7h-2.1zM334.40,518.5h2.1v12.5h-2.1zM339.20,513.2h2.1v17.8h-2.1zM346.40,516.3h2.1v14.7h-2.1zM348.80,506.3h2.1v24.7h-2.1zM358.40,524.1h2.1v6.9h-2.1zM363.20,527.5h2.1v3.5h-2.1zM375.20,525.5h2.1v5.5h-2.1zM377.60,515.8h2.1v15.2h-2.1zM382.40,520.1h2.1v10.9h-2.1zM384.80,528.0h2.1v3.0h-2.1zM399.20,523.4h2.1v7.6h-2.1zM404.00,521.0h2.1v10.0h-2.1zM418.40,526.4h2.1v4.6h-2.1zM420.80,519.6h2.1v11.4h-2.1zM425.60,529.0h2.1v2.0h-2.1zM428.00,517.8h2.1v13.2h-2.1zM430.40,520.4h2.1v10.6h-2.1zM432.80,522.9h2.1v8.1h-2.1zM435.20,512.5h2.1v18.5h-2.1zM442.40,520.6h2.1v10.4h-2.1zM444.80,525.2h2.1v5.8h-2.1zM447.20,524.0h2.1v7.0h-2.1zM454.40,522.8h2.1v8.2h-2.1zM456.80,514.3h2.1v16.7h-2.1zM464.00,516.9h2.1v14.1h-2.1zM466.40,517.1h2.1v13.9h-2.1zM468.80,513.2h2.1v17.8h-2.1zM471.20,519.1h2.1v11.9h-2.1zM473.60,511.6h2.1v19.4h-2.1zM480.80,519.9h2.1v11.1h-2.1zM495.20,498.0h2.1v33.0h-2.1zM497.60,516.7h2.1v14.3h-2.1zM502.40,521.8h2.1v9.2h-2.1zM509.60,521.9h2.1v9.1h-2.1zM512.00,524.0h2.1v7.0h-2.1zM516.80,526.2h2.1v4.8h-2.1zM521.60,526.0h2.1v5.0h-2.1zM526.40,520.2h2.1v10.8h-2.1zM528.80,523.1h2.1v7.9h-2.1zM531.20,525.5h2.1v5.5h-2.1zM533.60,518.9h2.1v12.1h-2.1zM538.40,524.8h2.1v6.2h-2.1zM540.80,522.9h2.1v8.1h-2.1zM543.20,518.8h2.1v12.2h-2.1zM545.60,521.0h2.1v10.0h-2.1zM552.80,520.4h2.1v10.6h-2.1zM555.20,525.8h2.1v5.2h-2.1zM557.60,515.7h2.1v15.3h-2.1zM564.80,520.5h2.1v10.5h-2.1zM567.20,520.6h2.1v10.4h-2.1zM569.60,512.3h2.1v18.7h-2.1zM572.00,521.4h2.1v9.6h-2.1zM591.20,519.7h2.1v11.3h-2.1zM593.60,519.9h2.1v11.1h-2.1zM596.00,523.7h2.1v7.3h-2.1zM598.40,515.1h2.1v15.9h-2.1zM600.80,526.5h2.1v4.5h-2.1zM608.00,521.4h2.1v9.6h-2.1zM610.40,524.1h2.1v6.9h-2.1zM629.60,527.3h2.1v3.7h-2.1zM632.00,517.9h2.1v13.1h-2.1zM634.40,520.4h2.1v10.6h-2.1zM636.80,522.7h2.1v8.3h-2.1zM639.20,516.4h2.1v14.6h-2.1zM644.00,529.0h2.1v2.0h-2.1zM646.40,520.8h2.1v10.2h-2.1zM648.80,526.8h2.1v4.2h-2.1zM651.20,516.7h2.1v14.3h-2.1zM656.00,523.1h2.1v7.9h-2.1zM658.40,520.7h2.1v10.3h-2.1zM660.80,520.3h2.1v10.7h-2.1zM663.20,517.2h2.1v13.8h-2.1zM665.60,515.8h2.1v15.2h-2.1zM668.00,497.0h2.1v34.0h-2.1zM672.80,511.1h2.1v19.9h-2.1zM675.20,523.7h2.1v7.3h-2.1zM680.00,513.2h2.1v17.8h-2.1zM682.40,515.4h2.1v15.6h-2.1zM684.80,507.0h2.1v24.0h-2.1zM692.00,519.3h2.1v11.7h-2.1zM696.80,525.5h2.1v5.5h-2.1zM701.60,516.0h2.1v15.0h-2.1zM704.00,516.2h2.1v14.8h-2.1zM713.60,514.7h2.1v16.3h-2.1zM718.40,510.0h2.1v21.0h-2.1zM720.80,528.5h2.1v2.5h-2.1zM723.20,512.6h2.1v18.4h-2.1zM725.60,502.7h2.1v28.3h-2.1zM728.00,520.4h2.1v10.6h-2.1zM730.40,523.8h2.1v7.2h-2.1zM732.80,528.3h2.1v2.7h-2.1zM735.20,520.9h2.1v10.1h-2.1zM740.00,516.5h2.1v14.5h-2.1zM742.40,526.4h2.1v4.6h-2.1zM749.60,520.2h2.1v10.8h-2.1zM752.00,522.5h2.1v8.5h-2.1zM754.40,522.9h2.1v8.1h-2.1zM759.20,521.7h2.1v9.3h-2.1zM764.00,519.9h2.1v11.1h-2.1zM766.40,526.1h2.1v4.9h-2.1zM768.80,503.6h2.1v27.4h-2.1zM771.20,523.5h2.1v7.5h-2.1zM776.00,509.7h2.1v21.3h-2.1zM778.40,515.9h2.1v15.1h-2.1zM780.80,520.6h2.1v10.4h-2.1zM790.40,515.4h2.1v15.6h-2.1zM792.80,522.8h2.1v8.2h-2.1zM795.20,518.7h2.1v12.3h-2.1zM797.60,522.1h2.1v8.9h-2.1zM804.80,522.4h2.1v8.6h-2.1zM812.00,481.0h2.1v50.0h-2.1zM814.40,524.1h2.1v6.9h-2.1zM821.60,526.0h2.1v5.0h-2.1zM824.00,516.6h2.1v14.4h-2.1zM826.40,506.2h2.1v24.8h-2.1zM828.80,524.0h2.1v7.0h-2.1zM836.00,524.5h2.1v6.5h-2.1zM838.40,520.4h2.1v10.6h-2.1zM857.60,497.0h2.1v34.0h-2.1zM860.00,514.6h2.1v16.4h-2.1zM862.40,518.2h2.1v12.8h-2.1zM864.80,516.9h2.1v14.1h-2.1zM869.60,529.0h2.1v2.0h-2.1zM872.00,518.6h2.1v12.4h-2.1zM874.40,516.2h2.1v14.8h-2.1zM886.40,525.4h2.1v5.6h-2.1zM888.80,524.8h2.1v6.2h-2.1zM891.20,520.1h2.1v10.9h-2.1zM893.60,525.4h2.1v5.6h-2.1zM896.00,523.4h2.1v7.6h-2.1zM903.20,522.7h2.1v8.3h-2.1zM908.00,525.2h2.1v5.8h-2.1zM920.00,519.4h2.1v11.6h-2.1zM927.20,525.2h2.1v5.8h-2.1zM929.60,524.3h2.1v6.7h-2.1zM934.40,525.7h2.1v5.3h-2.1zM939.20,518.8h2.1v12.2h-2.1zM948.80,518.3h2.1v12.7h-2.1zM951.20,526.2h2.1v4.8h-2.1zM953.60,519.5h2.1v11.5h-2.1zM956.00,524.1h2.1v6.9h-2.1zM958.40,525.3h2.1v5.7h-2.1zM963.20,523.6h2.1v7.4h-2.1zM965.60,526.0h2.1v5.0h-2.1zM970.40,525.8h2.1v5.2h-2.1zM972.80,518.6h2.1v12.4h-2.1zM980.00,519.4h2.1v11.6h-2.1zM982.40,524.6h2.1v6.4h-2.1zM992.00,526.0h2.1v5.0h-2.1zM994.40,522.7h2.1v8.3h-2.1zM1001.60,521.8h2.1v9.2h-2.1zM1011.20,523.9h2.1v7.1h-2.1zM1016.00,523.5h2.1v7.5h-2.1zM1018.40,525.0h2.1v6.0h-2.1zM1020.80,524.2h2.1v6.8h-2.1zM1035.20,524.2h2.1v6.8h-2.1zM1040.00,513.0h2.1v18.0h-2.1z" fill="#e6f7f0" stroke="#74d0b0" stroke-width="0.75"/>
<path d="M1.8,508.0 L4.1,513.5 L6.5,516.9 L8.9,516.8 L11.3,517.9 L13.8,520.1 L16.1,520.8 L18.6,520.6 L20.9,520.5 L23.3,520.6 L25.8,521.9 L28.1,522.3 L30.5,522.4 L33.0,522.3 L35.4,522.0 L37.8,520.6 L40.1,520.8 L42.5,520.4 L44.9,521.3 L47.4,520.3 L49.8,521.3 L52.1,520.4 L54.5,520.4 L56.9,521.4 L59.3,522.5 L61.8,522.2 L64.1,524.0 L66.5,523.8 L69.0,522.9 L71.3,523.1 L73.8,523.8 L76.1,521.5 L78.5,521.7 L81.0,521.4 L83.3,520.3 L85.8,519.8 L88.1,520.2 L90.5,520.5 L93.0,521.2 L95.3,522.1 L97.8,521.7 L100.1,521.6 L102.5,521.3 L105.0,521.4 L107.3,521.5 L109.8,521.3 L112.1,522.5 L114.5,522.9 L116.9,522.8 L119.3,523.0 L121.8,523.3 L124.1,523.1 L126.5,521.6 L128.9,520.8 L131.3,520.2 L133.8,520.1 L136.2,518.4 L138.5,519.5 L140.9,520.3 L143.3,520.4 L145.8,520.2 L148.2,520.6 L150.5,520.9 L152.9,519.5 L155.3,520.3 L157.8,520.0 L160.2,521.5 L162.5,520.4 L164.9,521.8 L167.3,521.3 L169.8,521.2 L172.2,519.8 L174.5,521.6 L176.9,521.6 L179.3,522.4 L181.8,522.9 L184.2,523.7 L186.5,523.2 L188.9,523.4 L191.3,521.8 L193.8,516.4 L196.2,514.6 L198.5,511.7 L200.9,512.0 L203.3,511.8 L205.8,516.4 L208.2,516.5 L210.5,518.9 L212.9,517.1 L215.3,518.1 L217.8,516.9 L220.2,517.3 L222.5,516.6 L224.9,513.3 L227.3,512.5 L229.8,514.8 L232.1,514.3 L234.5,513.8 L236.9,517.1 L239.3,515.8 L241.8,513.1 L244.1,514.8 L246.5,515.8 L248.9,514.0 L251.3,513.5 L253.8,515.5 L256.1,515.6 L258.6,515.4 L260.9,517.6 L263.3,520.6 L265.8,519.9 L268.1,520.0 L270.6,520.5 L272.9,516.9 L275.3,516.0 L277.8,513.0 L280.1,511.1 L282.6,507.9 L284.9,497.7 L287.3,493.4 L289.8,493.3 L292.1,490.8 L294.6,491.0 L296.9,504.6 L299.3,506.2 L301.8,507.6 L304.1,509.1 L306.6,506.7 L308.9,503.7 L311.3,505.3 L313.8,506.3 L316.1,508.4 L318.6,511.3 L320.9,509.2 L323.3,505.3 L325.8,505.1 L328.1,506.1 L330.6,507.2 L332.9,510.8 L335.3,515.6 L337.8,516.7 L340.1,514.7 L342.6,513.4 L344.9,513.8 L347.3,513.3 L349.8,511.3 L352.1,513.3 L354.6,516.2 L356.9,514.9 L359.3,516.4 L361.8,518.8 L364.1,519.7 L366.6,519.4 L368.9,521.9 L371.3,521.6 L373.8,521.9 L376.1,521.5 L378.6,520.4 L380.9,520.1 L383.3,519.6 L385.8,521.2 L388.1,521.1 L390.6,521.4 L392.9,520.9 L395.3,518.7 L397.8,516.3 L400.1,515.9 L402.6,516.9 L404.9,518.2 L407.3,520.3 L409.8,522.5 L412.1,521.3 L414.6,520.1 L416.9,521.0 L419.3,522.4 L421.8,520.9 L424.1,522.2 L426.6,524.8 L428.9,523.3 L431.3,522.1 L433.8,522.7 L436.1,520.5 L438.6,518.8 L440.9,520.1 L443.3,520.1 L445.8,520.6 L448.1,522.9 L450.6,522.7 L452.9,522.5 L455.3,522.9 L457.8,520.8 L460.1,519.5 L462.5,518.7 L464.9,517.5 L467.3,516.3 L469.8,516.1 L472.1,516.4 L474.5,515.6 L476.9,512.0 L479.3,511.4 L481.8,512.8 L484.1,511.9 L486.5,509.4 L488.9,510.7 L491.3,511.1 L493.8,506.0 L496.1,502.7 L498.5,506.2 L500.9,510.2 L503.3,511.3 L505.8,517.9 L508.1,522.6 L510.5,523.6 L513.0,523.3 L515.4,524.0 L517.8,523.8 L520.1,522.7 L522.5,523.5 L524.9,522.2 L527.4,521.2 L529.8,520.6 L532.1,522.4 L534.5,521.0 L536.9,520.9 L539.4,521.8 L541.8,521.8 L544.1,520.4 L546.5,520.9 L548.9,520.7 L551.4,520.5 L553.8,520.0 L556.1,521.4 L558.5,520.3 L560.9,521.7 L563.4,522.7 L565.8,522.7 L568.1,521.7 L570.5,521.0 L572.9,520.7 L575.4,515.4 L577.8,511.7 L580.1,510.3 L582.5,511.9 L584.9,509.7 L587.4,512.9 L589.8,516.7 L592.1,517.9 L594.5,517.9 L596.9,520.5 L599.4,519.9 L601.8,521.0 L604.1,520.3 L606.5,519.8 L608.9,519.3 L611.4,521.1 L613.8,520.2 L616.1,520.7 L618.5,520.9 L620.9,520.6 L623.4,519.2 L625.8,519.5 L628.1,519.6 L630.5,521.5 L632.9,521.1 L635.4,521.8 L637.8,521.7 L640.1,520.9 L642.5,519.1 L644.9,521.3 L647.4,521.4 L649.8,522.2 L652.1,522.3 L654.5,520.9 L656.9,519.7 L659.4,519.7 L661.8,518.4 L664.1,518.5 L666.5,519.4 L668.9,514.2 L671.4,514.8 L673.8,513.0 L676.1,514.3 L678.5,514.7 L680.9,517.9 L683.4,516.2 L685.8,515.4 L688.1,515.2 L690.5,515.9 L692.9,517.1 L695.4,516.7 L697.8,520.4 L700.1,519.2 L702.5,518.1 L704.9,517.5 L707.4,518.2 L709.8,515.4 L712.1,515.4 L714.5,515.1 L716.9,515.1 L719.4,513.8 L721.8,517.2 L724.1,516.4 L726.5,514.0 L728.9,514.8 L731.4,517.6 L733.8,517.6 L736.1,519.2 L738.5,523.2 L740.9,522.4 L743.4,522.9 L745.8,517.6 L748.1,517.0 L750.5,516.6 L752.9,517.8 L755.4,517.1 L757.8,521.6 L760.1,522.4 L762.5,522.2 L764.9,521.6 L767.4,522.3 L769.8,518.1 L772.1,518.4 L774.5,518.2 L776.9,516.2 L779.4,514.2 L781.8,517.6 L784.1,518.3 L786.5,519.9 L788.9,523.4 L791.4,523.3 L793.8,523.8 L796.1,522.1 L798.5,521.3 L800.9,519.5 L803.4,518.1 L805.8,518.0 L808.1,518.4 L810.5,518.6 L812.9,511.1 L815.4,514.3 L817.8,514.7 L820.1,515.8 L822.5,516.4 L824.9,523.5 L827.4,519.9 L829.8,519.8 L832.1,517.4 L834.5,515.8 L836.9,517.3 L839.4,520.2 L841.8,519.4 L844.1,521.1 L846.5,519.4 L848.9,516.3 L851.4,515.6 L853.8,515.0 L856.1,514.9 L858.5,512.5 L860.9,513.6 L863.4,513.8 L865.8,513.7 L868.1,512.5 L870.5,518.9 L872.9,519.7 L875.4,519.2 L877.8,519.9 L880.1,520.7 L882.5,520.4 L884.9,521.4 L887.4,523.2 L889.8,524.1 L892.1,524.2 L894.5,523.8 L896.9,523.8 L899.4,524.5 L901.8,524.2 L904.1,524.7 L906.5,524.7 L908.9,525.0 L911.4,522.8 L913.8,523.4 L916.1,521.4 L918.5,521.5 L920.9,520.4 L923.3,520.2 L925.8,519.3 L928.1,521.7 L930.5,521.5 L932.9,521.6 L935.3,523.4 L937.8,522.7 L940.1,521.4 L942.5,521.1 L944.9,520.8 L947.3,519.8 L949.8,519.7 L952.1,521.2 L954.5,520.5 L956.9,521.8 L959.3,522.7 L961.8,523.5 L964.1,523.0 L966.5,524.3 L968.9,525.1 L971.3,525.2 L973.8,524.4 L976.1,523.1 L978.5,522.1 L980.9,520.4 L983.3,520.2 L985.8,521.1 L988.1,522.1 L990.5,523.1 L992.9,524.4 L995.3,524.1 L997.8,524.2 L1000.1,525.0 L1002.5,524.1 L1004.9,523.7 L1007.3,523.1 L1009.8,523.0 L1012.1,522.5 L1014.5,522.7 L1016.9,522.6 L1019.3,523.6 L1021.8,523.8 L1024.1,523.2 L1026.5,522.9 L1029.0,520.8 L1031.3,521.4 L1033.8,521.4 L1036.1,522.1 L1038.5,522.4 L1041.0,522.4" fill="none" stroke="#7fd0bd" stroke-width="0.9"/>
<path d="M1.8,508.0 L4.1,513.5 L6.5,516.9 L8.9,516.8 L11.3,517.9 L13.8,518.1 L16.1,518.7 L18.6,519.2 L20.9,518.8 L23.3,519.3 L25.8,521.0 L28.1,521.6 L30.5,521.5 L33.0,521.4 L35.4,521.3 L37.8,521.3 L40.1,521.6 L42.5,521.4 L44.9,521.8 L47.4,521.2 L49.8,521.0 L52.1,520.6 L54.5,520.4 L56.9,521.4 L59.3,521.4 L61.8,521.8 L64.1,522.2 L66.5,522.1 L69.0,522.1 L71.3,522.8 L73.8,523.0 L76.1,522.7 L78.5,522.8 L81.0,522.1 L83.3,521.7 L85.8,521.8 L88.1,520.9 L90.5,521.1 L93.0,521.3 L95.3,521.2 L97.8,520.8 L100.1,520.9 L102.5,520.9 L105.0,521.3 L107.3,521.8 L109.8,521.5 L112.1,522.0 L114.5,522.1 L116.9,522.1 L119.3,522.3 L121.8,522.3 L124.1,522.8 L126.5,522.2 L128.9,521.8 L131.3,521.6 L133.8,521.7 L136.2,520.8 L138.5,520.5 L140.9,520.5 L143.3,520.3 L145.8,520.2 L148.2,519.5 L150.5,520.2 L152.9,519.9 L155.3,520.3 L157.8,520.1 L160.2,521.1 L162.5,520.6 L164.9,520.7 L167.3,520.8 L169.8,520.6 L172.2,520.7 L174.5,521.0 L176.9,521.7 L179.3,521.9 L181.8,522.0 L184.2,521.8 L186.5,522.4 L188.9,522.5 L191.3,522.1 L193.8,519.7 L196.2,519.2 L198.5,517.5 L200.9,517.7 L203.3,516.8 L205.8,516.4 L208.2,515.5 L210.5,515.3 L212.9,514.6 L215.3,514.9 L217.8,516.7 L220.2,516.9 L222.5,517.7 L224.9,515.2 L227.3,515.3 L229.8,515.9 L232.1,515.8 L234.5,515.2 L236.9,515.2 L239.3,514.2 L241.8,513.9 L244.1,514.5 L246.5,514.8 L248.9,515.5 L251.3,514.7 L253.8,514.3 L256.1,515.2 L258.6,515.6 L260.9,515.8 L263.3,517.1 L265.8,517.7 L268.1,517.8 L270.6,518.0 L272.9,517.3 L275.3,518.3 L277.8,516.4 L280.1,515.5 L282.6,514.2 L284.9,507.3 L287.3,504.7 L289.8,503.1 L292.1,500.9 L294.6,499.4 L296.9,501.2 L299.3,499.8 L301.8,500.4 L304.1,500.0 L306.6,498.8 L308.9,504.1 L311.3,505.8 L313.8,506.9 L316.1,508.8 L318.6,509.0 L320.9,506.4 L323.3,505.3 L325.8,505.7 L328.1,507.2 L330.6,509.3 L332.9,510.0 L335.3,510.4 L337.8,510.9 L340.1,510.4 L342.6,510.3 L344.9,512.3 L347.3,514.5 L349.8,514.0 L352.1,514.0 L354.6,514.8 L356.9,514.3 L359.3,514.9 L361.8,515.1 L364.1,516.5 L366.6,517.8 L368.9,518.4 L371.3,519.0 L373.8,520.4 L376.1,520.6 L378.6,519.9 L380.9,521.0 L383.3,520.6 L385.8,521.5 L388.1,521.3 L390.6,520.9 L392.9,520.5 L395.3,519.1 L397.8,518.7 L400.1,518.5 L402.6,519.1 L404.9,519.6 L407.3,519.5 L409.8,519.4 L412.1,518.6 L414.6,518.5 L416.9,519.6 L419.3,521.4 L421.8,521.7 L424.1,521.7 L426.6,522.5 L428.9,522.1 L431.3,522.2 L433.8,521.8 L436.1,521.4 L438.6,521.8 L440.9,521.7 L443.3,521.1 L445.8,521.6 L448.1,521.7 L450.6,520.7 L452.9,521.3 L455.3,521.5 L457.8,520.7 L460.1,521.2 L462.5,520.7 L464.9,520.0 L467.3,519.6 L469.8,518.4 L472.1,517.9 L474.5,517.1 L476.9,514.7 L479.3,513.9 L481.8,514.4 L484.1,514.1 L486.5,512.5 L488.9,511.4 L491.3,511.3 L493.8,509.4 L496.1,507.3 L498.5,507.8 L500.9,510.5 L503.3,511.2 L505.8,511.9 L508.1,512.6 L510.5,514.9 L513.0,516.7 L515.4,517.6 L517.8,520.8 L520.1,522.6 L522.5,523.6 L524.9,522.8 L527.4,522.6 L529.8,522.2 L532.1,522.6 L534.5,522.3 L536.9,521.5 L539.4,521.5 L541.8,521.2 L544.1,521.4 L546.5,520.9 L548.9,520.8 L551.4,521.1 L553.8,520.9 L556.1,520.9 L558.5,520.6 L560.9,521.2 L563.4,521.6 L565.8,521.4 L568.1,521.5 L570.5,520.7 L572.9,521.2 L575.4,519.0 L577.8,517.2 L580.1,516.0 L582.5,516.4 L584.9,515.2 L587.4,514.1 L589.8,514.2 L592.1,514.1 L594.5,514.9 L596.9,515.1 L599.4,516.4 L601.8,518.9 L604.1,519.1 L606.5,518.8 L608.9,519.9 L611.4,520.5 L613.8,520.6 L616.1,520.5 L618.5,520.3 L620.9,520.0 L623.4,520.1 L625.8,519.8 L628.1,520.2 L630.5,521.2 L632.9,520.8 L635.4,520.5 L637.8,520.6 L640.1,520.3 L642.5,520.3 L644.9,521.2 L647.4,521.6 L649.8,522.0 L652.1,521.6 L654.5,520.0 L656.9,520.5 L659.4,520.5 L661.8,520.3 L664.1,520.4 L666.5,520.1 L668.9,516.9 L671.4,517.3 L673.8,515.7 L676.1,516.4 L678.5,517.0 L680.9,516.1 L683.4,515.5 L685.8,514.2 L688.1,514.7 L690.5,515.3 L692.9,517.5 L695.4,516.4 L697.8,517.9 L700.1,517.2 L702.5,517.0 L704.9,517.3 L707.4,517.4 L709.8,517.9 L712.1,517.3 L714.5,516.6 L716.9,516.3 L719.4,516.0 L721.8,516.3 L724.1,515.9 L726.5,514.6 L728.9,515.0 L731.4,515.7 L733.8,517.4 L736.1,517.8 L738.5,518.6 L740.9,518.6 L743.4,520.3 L745.8,517.6 L748.1,518.1 L750.5,519.9 L752.9,520.1 L755.4,520.0 L757.8,519.6 L760.1,519.7 L762.5,519.4 L764.9,519.7 L767.4,519.7 L769.8,519.8 L772.1,520.4 L774.5,520.2 L776.9,518.9 L779.4,518.2 L781.8,517.8 L784.1,518.3 L786.5,519.1 L788.9,519.8 L791.4,518.7 L793.8,520.7 L796.1,520.2 L798.5,520.6 L800.9,521.5 L803.4,520.7 L805.8,520.9 L808.1,520.3 L810.5,520.0 L812.9,515.3 L815.4,516.2 L817.8,516.4 L820.1,517.1 L822.5,517.5 L824.9,517.3 L827.4,517.1 L829.8,517.2 L832.1,516.6 L834.5,516.1 L836.9,520.4 L839.4,520.0 L841.8,519.6 L844.1,519.2 L846.5,517.6 L848.9,516.8 L851.4,517.9 L853.8,517.2 L856.1,518.0 L858.5,515.9 L860.9,514.9 L863.4,514.7 L865.8,514.4 L868.1,513.7 L870.5,515.7 L872.9,516.6 L875.4,516.5 L877.8,516.8 L880.1,516.6 L882.5,519.6 L884.9,520.5 L887.4,521.2 L889.8,522.0 L892.1,522.5 L894.5,522.1 L896.9,522.6 L899.4,523.8 L901.8,524.2 L904.1,524.5 L906.5,524.2 L908.9,524.4 L911.4,523.6 L913.8,523.8 L916.1,523.1 L918.5,523.1 L920.9,522.7 L923.3,521.5 L925.8,521.4 L928.1,521.6 L930.5,521.5 L932.9,521.0 L935.3,521.8 L937.8,521.0 L940.1,521.6 L942.5,521.3 L944.9,521.2 L947.3,521.6 L949.8,521.2 L952.1,521.3 L954.5,520.8 L956.9,521.3 L959.3,521.2 L961.8,521.6 L964.1,522.1 L966.5,522.4 L968.9,523.4 L971.3,523.9 L973.8,524.0 L976.1,523.1 L978.5,523.2 L980.9,522.7 L983.3,522.7 L985.8,522.7 L988.1,522.6 L990.5,522.6 L992.9,522.4 L995.3,522.1 L997.8,522.6 L1000.1,523.5 L1002.5,523.6 L1004.9,524.1 L1007.3,523.6 L1009.8,523.6 L1012.1,523.8 L1014.5,523.4 L1016.9,523.1 L1019.3,523.4 L1021.8,523.4 L1024.1,522.9 L1026.5,522.8 L1029.0,521.7 L1031.3,522.5 L1033.8,522.6 L1036.1,522.7 L1038.5,522.7 L1041.0,521.6" fill="none" stroke="#f0c060" stroke-width="0.9"/>
<ellipse cx="483.8" cy="510.8" rx="32.6" ry="23" fill="none" stroke="#d83434" stroke-width="1.6"/>
<ellipse cx="577.8" cy="513.8" rx="25.2" ry="20.4" fill="none" stroke="#d83434" stroke-width="1.6"/>
<ellipse cx="1031" cy="515.3" rx="18.5" ry="15.6" fill="none" stroke="#d83434" stroke-width="1.6"/>
<text x="966.8" y="491.5" font-family="Liberation Sans, Noto Sans CJK SC, sans-serif" font-size="12.8" fill="#dd4444" textLength="155" lengthAdjust="spacingAndGlyphs">同比之前下跌量能明显较小</text>
<clipPath id="mc"><rect x="0" y="552" width="1234" height="73"/></clipPath>
<g clip-path="url(#mc)">
<path d="M0.90,612.5h1.6v2.0h-1.6zM3.30,612.0h1.6v2.5h-1.6zM5.70,612.0h1.6v2.5h-1.6zM8.10,612.0h1.6v2.5h-1.6zM10.50,612.5h1.6v2.0h-1.6zM12.90,612.9h1.6v1.6h-1.6zM77.70,614.0h1.6v0.5h-1.6zM82.50,614.1h1.6v0.4h-1.6zM87.30,614.5h1.6v0.0h-1.6zM92.10,614.3h1.6v0.2h-1.6zM94.50,614.2h1.6v0.3h-1.6zM96.90,614.4h1.6v0.1h-1.6zM104.10,613.8h1.6v0.7h-1.6zM111.30,613.9h1.6v0.6h-1.6zM113.70,614.1h1.6v0.4h-1.6zM116.10,614.3h1.6v0.2h-1.6zM120.90,613.6h1.6v0.9h-1.6zM123.30,614.3h1.6v0.2h-1.6zM125.70,614.3h1.6v0.2h-1.6zM135.30,614.3h1.6v0.2h-1.6zM137.70,614.3h1.6v0.2h-1.6zM152.10,614.1h1.6v0.4h-1.6zM154.50,614.0h1.6v0.5h-1.6zM156.90,613.4h1.6v1.1h-1.6zM159.30,614.1h1.6v0.4h-1.6zM173.70,614.1h1.6v0.4h-1.6zM176.10,614.3h1.6v0.2h-1.6zM178.50,614.3h1.6v0.2h-1.6zM180.90,614.4h1.6v0.1h-1.6zM183.30,614.2h1.6v0.3h-1.6zM185.70,613.9h1.6v0.6h-1.6zM192.90,612.0h1.6v2.5h-1.6zM195.30,611.0h1.6v3.5h-1.6zM197.70,610.8h1.6v3.7h-1.6zM200.10,610.3h1.6v4.2h-1.6zM202.50,609.8h1.6v4.7h-1.6zM204.90,609.8h1.6v4.7h-1.6zM207.30,609.4h1.6v5.1h-1.6zM209.70,609.1h1.6v5.4h-1.6zM212.10,608.8h1.6v5.7h-1.6zM214.50,608.2h1.6v6.3h-1.6zM216.90,609.2h1.6v5.3h-1.6zM219.30,608.9h1.6v5.6h-1.6zM221.70,610.1h1.6v4.4h-1.6zM224.10,610.4h1.6v4.1h-1.6zM226.50,611.0h1.6v3.5h-1.6zM228.90,612.2h1.6v2.3h-1.6zM274.50,610.2h1.6v4.3h-1.6zM276.90,608.7h1.6v5.8h-1.6zM279.30,606.6h1.6v7.9h-1.6zM281.70,605.4h1.6v9.1h-1.6zM284.10,604.4h1.6v10.1h-1.6zM286.50,605.3h1.6v9.2h-1.6zM288.90,606.1h1.6v8.4h-1.6zM291.30,607.8h1.6v6.7h-1.6zM293.70,608.4h1.6v6.1h-1.6zM296.10,610.5h1.6v4.0h-1.6zM298.50,613.1h1.6v1.4h-1.6zM300.90,612.5h1.6v2.0h-1.6zM303.30,612.3h1.6v2.2h-1.6zM305.70,612.3h1.6v2.2h-1.6zM308.10,611.6h1.6v2.9h-1.6zM310.50,611.7h1.6v2.8h-1.6zM312.90,611.7h1.6v2.8h-1.6zM315.30,612.0h1.6v2.5h-1.6zM317.70,611.8h1.6v2.7h-1.6zM320.10,612.3h1.6v2.2h-1.6zM322.50,612.4h1.6v2.1h-1.6zM324.90,612.8h1.6v1.7h-1.6zM327.30,613.0h1.6v1.5h-1.6zM425.70,611.0h1.6v3.5h-1.6zM428.10,610.3h1.6v4.2h-1.6zM430.50,608.9h1.6v5.6h-1.6zM432.90,608.7h1.6v5.8h-1.6zM435.30,607.9h1.6v6.6h-1.6zM437.70,608.2h1.6v6.3h-1.6zM440.10,609.0h1.6v5.5h-1.6zM442.50,608.8h1.6v5.7h-1.6zM444.90,609.6h1.6v4.9h-1.6zM447.30,610.0h1.6v4.5h-1.6zM449.70,611.1h1.6v3.4h-1.6zM452.10,611.6h1.6v2.9h-1.6zM459.30,614.5h1.6v0.0h-1.6zM464.10,614.1h1.6v0.4h-1.6zM468.90,614.5h1.6v0.0h-1.6zM471.30,614.5h1.6v0.0h-1.6zM473.70,614.2h1.6v0.3h-1.6zM478.50,614.1h1.6v0.4h-1.6zM509.70,614.0h1.6v0.5h-1.6zM512.10,614.5h1.6v0.0h-1.6zM521.70,613.7h1.6v0.8h-1.6zM524.10,614.3h1.6v0.2h-1.6zM528.90,614.3h1.6v0.2h-1.6zM533.70,613.7h1.6v0.8h-1.6zM540.90,613.1h1.6v1.4h-1.6zM543.30,612.9h1.6v1.6h-1.6zM545.70,612.7h1.6v1.8h-1.6zM548.10,612.2h1.6v2.3h-1.6zM550.50,612.0h1.6v2.5h-1.6zM552.90,611.8h1.6v2.7h-1.6zM555.30,611.5h1.6v3.0h-1.6zM557.70,611.6h1.6v2.9h-1.6zM560.10,611.7h1.6v2.8h-1.6zM562.50,611.6h1.6v2.9h-1.6zM564.90,611.9h1.6v2.6h-1.6zM567.30,612.0h1.6v2.5h-1.6zM569.70,612.1h1.6v2.4h-1.6zM572.10,612.2h1.6v2.3h-1.6zM574.50,612.3h1.6v2.2h-1.6zM576.90,612.5h1.6v2.0h-1.6zM579.30,612.9h1.6v1.6h-1.6zM581.70,613.0h1.6v1.5h-1.6zM584.10,613.3h1.6v1.2h-1.6zM591.30,614.4h1.6v0.1h-1.6zM600.90,611.7h1.6v2.8h-1.6zM603.30,611.1h1.6v3.4h-1.6zM605.70,610.4h1.6v4.1h-1.6zM608.10,609.8h1.6v4.7h-1.6zM610.50,610.0h1.6v4.5h-1.6zM612.90,610.6h1.6v3.9h-1.6zM615.30,611.1h1.6v3.4h-1.6zM617.70,611.3h1.6v3.2h-1.6zM620.10,612.2h1.6v2.3h-1.6zM622.50,614.1h1.6v0.4h-1.6zM668.10,605.3h1.6v9.2h-1.6zM670.50,602.8h1.6v11.7h-1.6zM672.90,599.9h1.6v14.6h-1.6zM675.30,598.1h1.6v16.4h-1.6zM677.70,595.3h1.6v19.2h-1.6zM680.10,599.3h1.6v15.2h-1.6zM682.50,600.3h1.6v14.2h-1.6zM684.90,601.1h1.6v13.4h-1.6zM687.30,601.0h1.6v13.5h-1.6zM689.70,602.0h1.6v12.5h-1.6zM692.10,604.2h1.6v10.3h-1.6zM694.50,605.8h1.6v8.7h-1.6zM725.70,603.4h1.6v11.1h-1.6zM728.10,599.6h1.6v14.9h-1.6zM730.50,597.0h1.6v17.5h-1.6zM732.90,596.2h1.6v18.3h-1.6zM735.30,594.6h1.6v19.9h-1.6zM737.70,593.3h1.6v21.2h-1.6zM740.10,598.3h1.6v16.2h-1.6zM742.50,597.5h1.6v17.0h-1.6zM744.90,600.1h1.6v14.4h-1.6zM747.30,601.5h1.6v13.0h-1.6zM749.70,604.8h1.6v9.7h-1.6zM771.30,610.4h1.6v4.1h-1.6zM773.70,608.6h1.6v5.9h-1.6zM776.10,607.1h1.6v7.4h-1.6zM778.50,608.5h1.6v6.0h-1.6zM780.90,610.3h1.6v4.2h-1.6zM869.70,613.9h1.6v0.6h-1.6zM872.10,607.1h1.6v7.4h-1.6zM874.50,606.1h1.6v8.4h-1.6zM876.90,605.4h1.6v9.1h-1.6zM879.30,605.9h1.6v8.6h-1.6zM881.70,605.6h1.6v8.9h-1.6zM884.10,604.9h1.6v9.6h-1.6zM886.50,605.2h1.6v9.3h-1.6zM888.90,605.6h1.6v8.9h-1.6zM891.30,605.9h1.6v8.6h-1.6zM893.70,605.0h1.6v9.5h-1.6zM896.10,605.2h1.6v9.3h-1.6zM898.50,605.6h1.6v8.9h-1.6zM900.90,605.2h1.6v9.3h-1.6zM903.30,606.6h1.6v7.9h-1.6zM905.70,607.3h1.6v7.2h-1.6zM908.10,608.9h1.6v5.6h-1.6zM910.50,609.8h1.6v4.7h-1.6zM927.30,611.9h1.6v2.6h-1.6zM929.70,610.4h1.6v4.1h-1.6zM932.10,609.5h1.6v5.0h-1.6zM934.50,608.5h1.6v6.0h-1.6zM936.90,609.4h1.6v5.1h-1.6zM939.30,610.1h1.6v4.4h-1.6zM941.70,610.7h1.6v3.8h-1.6zM944.10,612.4h1.6v2.1h-1.6zM956.10,607.9h1.6v6.6h-1.6zM958.50,606.3h1.6v8.2h-1.6zM960.90,605.8h1.6v8.7h-1.6zM963.30,603.5h1.6v11.0h-1.6zM965.70,602.2h1.6v12.3h-1.6zM968.10,603.4h1.6v11.1h-1.6zM970.50,602.7h1.6v11.8h-1.6zM972.90,602.2h1.6v12.3h-1.6zM975.30,598.8h1.6v15.7h-1.6zM977.70,601.0h1.6v13.5h-1.6zM980.10,600.2h1.6v14.3h-1.6zM982.50,602.2h1.6v12.3h-1.6zM984.90,603.6h1.6v10.9h-1.6zM987.30,604.6h1.6v9.9h-1.6zM989.70,605.1h1.6v9.4h-1.6zM992.10,607.7h1.6v6.8h-1.6z" fill="#3aa57a"/>
<path d="M15.30,614.5h1.6v1.7h-1.6zM17.70,614.5h1.6v2.1h-1.6zM20.10,614.5h1.6v2.3h-1.6zM22.50,614.5h1.6v2.6h-1.6zM24.90,614.5h1.6v2.7h-1.6zM27.30,614.5h1.6v3.0h-1.6zM29.70,614.5h1.6v3.2h-1.6zM32.10,614.5h1.6v2.8h-1.6zM34.50,614.5h1.6v3.1h-1.6zM36.90,614.5h1.6v3.3h-1.6zM39.30,614.5h1.6v3.3h-1.6zM41.70,614.5h1.6v3.4h-1.6zM44.10,614.5h1.6v4.1h-1.6zM46.50,614.5h1.6v3.5h-1.6zM48.90,614.5h1.6v3.8h-1.6zM51.30,614.5h1.6v4.3h-1.6zM53.70,614.5h1.6v4.0h-1.6zM56.10,614.5h1.6v4.2h-1.6zM58.50,614.5h1.6v4.9h-1.6zM60.90,614.5h1.6v4.8h-1.6zM63.30,614.5h1.6v4.0h-1.6zM65.70,614.5h1.6v3.0h-1.6zM68.10,614.5h1.6v2.2h-1.6zM70.50,614.5h1.6v0.2h-1.6zM72.90,614.5h1.6v0.2h-1.6zM75.30,614.5h1.6v0.4h-1.6zM80.10,614.5h1.6v0.0h-1.6zM84.90,614.5h1.6v0.1h-1.6zM89.70,614.5h1.6v0.1h-1.6zM99.30,614.5h1.6v0.3h-1.6zM101.70,614.5h1.6v0.3h-1.6zM106.50,614.5h1.6v0.1h-1.6zM108.90,614.5h1.6v0.1h-1.6zM118.50,614.5h1.6v0.2h-1.6zM128.10,614.5h1.6v0.1h-1.6zM130.50,614.5h1.6v0.6h-1.6zM132.90,614.5h1.6v0.5h-1.6zM140.10,614.5h1.6v0.1h-1.6zM142.50,614.5h1.6v0.5h-1.6zM144.90,614.5h1.6v0.6h-1.6zM147.30,614.5h1.6v0.1h-1.6zM149.70,614.5h1.6v0.6h-1.6zM161.70,614.5h1.6v0.2h-1.6zM164.10,614.5h1.6v0.3h-1.6zM166.50,614.5h1.6v1.4h-1.6zM168.90,614.5h1.6v0.2h-1.6zM171.30,614.5h1.6v0.1h-1.6zM188.10,614.5h1.6v0.4h-1.6zM190.50,614.5h1.6v0.2h-1.6zM231.30,614.5h1.6v2.0h-1.6zM233.70,614.5h1.6v2.6h-1.6zM236.10,614.5h1.6v3.0h-1.6zM238.50,614.5h1.6v3.5h-1.6zM240.90,614.5h1.6v3.8h-1.6zM243.30,614.5h1.6v3.6h-1.6zM245.70,614.5h1.6v4.5h-1.6zM248.10,614.5h1.6v4.5h-1.6zM250.50,614.5h1.6v4.7h-1.6zM252.90,614.5h1.6v4.0h-1.6zM255.30,614.5h1.6v4.0h-1.6zM257.70,614.5h1.6v4.0h-1.6zM260.10,614.5h1.6v3.8h-1.6zM262.50,614.5h1.6v3.6h-1.6zM264.90,614.5h1.6v2.9h-1.6zM267.30,614.5h1.6v3.0h-1.6zM269.70,614.5h1.6v2.5h-1.6zM272.10,614.5h1.6v2.2h-1.6zM329.70,614.5h1.6v3.2h-1.6zM332.10,614.5h1.6v4.3h-1.6zM334.50,614.5h1.6v4.8h-1.6zM336.90,614.5h1.6v5.4h-1.6zM339.30,614.5h1.6v5.3h-1.6zM341.70,614.5h1.6v5.5h-1.6zM344.10,614.5h1.6v6.9h-1.6zM346.50,614.5h1.6v7.4h-1.6zM348.90,614.5h1.6v7.4h-1.6zM351.30,614.5h1.6v8.2h-1.6zM353.70,614.5h1.6v8.2h-1.6zM356.10,614.5h1.6v8.4h-1.6zM358.50,614.5h1.6v8.3h-1.6zM360.90,614.5h1.6v8.0h-1.6zM363.30,614.5h1.6v8.0h-1.6zM365.70,614.5h1.6v7.3h-1.6zM368.10,614.5h1.6v7.4h-1.6zM370.50,614.5h1.6v7.3h-1.6zM372.90,614.5h1.6v6.4h-1.6zM375.30,614.5h1.6v6.6h-1.6zM377.70,614.5h1.6v6.2h-1.6zM380.10,614.5h1.6v6.4h-1.6zM382.50,614.5h1.6v6.3h-1.6zM384.90,614.5h1.6v5.7h-1.6zM387.30,614.5h1.6v5.5h-1.6zM389.70,614.5h1.6v5.1h-1.6zM392.10,614.5h1.6v4.4h-1.6zM394.50,614.5h1.6v4.1h-1.6zM396.90,614.5h1.6v4.0h-1.6zM399.30,614.5h1.6v1.6h-1.6zM401.70,614.5h1.6v2.1h-1.6zM404.10,614.5h1.6v2.5h-1.6zM406.50,614.5h1.6v3.5h-1.6zM408.90,614.5h1.6v3.9h-1.6zM411.30,614.5h1.6v4.1h-1.6zM413.70,614.5h1.6v3.9h-1.6zM416.10,614.5h1.6v3.3h-1.6zM418.50,614.5h1.6v3.1h-1.6zM420.90,614.5h1.6v2.3h-1.6zM423.30,614.5h1.6v1.8h-1.6zM454.50,614.5h1.6v0.3h-1.6zM456.90,614.5h1.6v0.2h-1.6zM461.70,614.5h1.6v0.2h-1.6zM466.50,614.5h1.6v0.0h-1.6zM476.10,614.5h1.6v0.2h-1.6zM480.90,614.5h1.6v2.0h-1.6zM483.30,614.5h1.6v2.3h-1.6zM485.70,614.5h1.6v2.6h-1.6zM488.10,614.5h1.6v3.0h-1.6zM490.50,614.5h1.6v3.8h-1.6zM492.90,614.5h1.6v3.6h-1.6zM495.30,614.5h1.6v3.5h-1.6zM497.70,614.5h1.6v3.4h-1.6zM500.10,614.5h1.6v3.2h-1.6zM502.50,614.5h1.6v2.9h-1.6zM504.90,614.5h1.6v2.7h-1.6zM507.30,614.5h1.6v2.2h-1.6zM514.50,614.5h1.6v0.5h-1.6zM516.90,614.5h1.6v0.1h-1.6zM519.30,614.5h1.6v0.4h-1.6zM526.50,614.5h1.6v0.6h-1.6zM531.30,614.5h1.6v0.2h-1.6zM536.10,614.5h1.6v0.4h-1.6zM538.50,614.5h1.6v0.9h-1.6zM586.50,614.5h1.6v0.1h-1.6zM588.90,614.5h1.6v0.2h-1.6zM593.70,614.5h1.6v0.6h-1.6zM596.10,614.5h1.6v0.5h-1.6zM598.50,614.5h1.6v0.2h-1.6zM624.90,614.5h1.6v1.8h-1.6zM627.30,614.5h1.6v2.2h-1.6zM629.70,614.5h1.6v2.6h-1.6zM632.10,614.5h1.6v2.9h-1.6zM634.50,614.5h1.6v3.3h-1.6zM636.90,614.5h1.6v3.0h-1.6zM639.30,614.5h1.6v3.5h-1.6zM641.70,614.5h1.6v4.1h-1.6zM644.10,614.5h1.6v4.0h-1.6zM646.50,614.5h1.6v4.0h-1.6zM648.90,614.5h1.6v3.2h-1.6zM651.30,614.5h1.6v2.8h-1.6zM653.70,614.5h1.6v2.9h-1.6zM656.10,614.5h1.6v2.2h-1.6zM658.50,614.5h1.6v1.7h-1.6zM660.90,614.5h1.6v0.3h-1.6zM663.30,614.5h1.6v0.2h-1.6zM665.70,614.5h1.6v0.1h-1.6zM696.90,614.5h1.6v0.2h-1.6zM699.30,614.5h1.6v8.1h-1.6zM701.70,614.5h1.6v11.9h-1.6zM704.10,614.5h1.6v14.3h-1.6zM706.50,614.5h1.6v12.6h-1.6zM708.90,614.5h1.6v14.2h-1.6zM711.30,614.5h1.6v13.0h-1.6zM713.70,614.5h1.6v12.3h-1.6zM716.10,614.5h1.6v11.7h-1.6zM718.50,614.5h1.6v12.3h-1.6zM720.90,614.5h1.6v9.5h-1.6zM723.30,614.5h1.6v0.1h-1.6zM752.10,614.5h1.6v0.6h-1.6zM754.50,614.5h1.6v9.3h-1.6zM756.90,614.5h1.6v14.1h-1.6zM759.30,614.5h1.6v12.6h-1.6zM761.70,614.5h1.6v11.9h-1.6zM764.10,614.5h1.6v11.8h-1.6zM766.50,614.5h1.6v13.9h-1.6zM768.90,614.5h1.6v6.4h-1.6zM783.30,614.5h1.6v5.8h-1.6zM785.70,614.5h1.6v6.8h-1.6zM788.10,614.5h1.6v7.5h-1.6zM790.50,614.5h1.6v10.3h-1.6zM792.90,614.5h1.6v10.6h-1.6zM795.30,614.5h1.6v11.0h-1.6zM797.70,614.5h1.6v14.0h-1.6zM800.10,614.5h1.6v14.3h-1.6zM802.50,614.5h1.6v13.8h-1.6zM804.90,614.5h1.6v12.4h-1.6zM807.30,614.5h1.6v12.2h-1.6zM809.70,614.5h1.6v13.1h-1.6zM812.10,614.5h1.6v13.2h-1.6zM814.50,614.5h1.6v14.0h-1.6zM816.90,614.5h1.6v14.2h-1.6zM819.30,614.5h1.6v14.1h-1.6zM821.70,614.5h1.6v12.6h-1.6zM824.10,614.5h1.6v13.2h-1.6zM826.50,614.5h1.6v12.0h-1.6zM828.90,614.5h1.6v13.0h-1.6zM831.30,614.5h1.6v11.9h-1.6zM833.70,614.5h1.6v12.0h-1.6zM836.10,614.5h1.6v12.0h-1.6zM838.50,614.5h1.6v12.5h-1.6zM840.90,614.5h1.6v12.5h-1.6zM843.30,614.5h1.6v13.5h-1.6zM845.70,614.5h1.6v11.9h-1.6zM848.10,614.5h1.6v12.0h-1.6zM850.50,614.5h1.6v13.4h-1.6zM852.90,614.5h1.6v13.4h-1.6zM855.30,614.5h1.6v12.6h-1.6zM857.70,614.5h1.6v11.4h-1.6zM860.10,614.5h1.6v10.1h-1.6zM862.50,614.5h1.6v8.7h-1.6zM864.90,614.5h1.6v7.8h-1.6zM867.30,614.5h1.6v5.8h-1.6zM912.90,614.5h1.6v3.6h-1.6zM915.30,614.5h1.6v5.0h-1.6zM917.70,614.5h1.6v6.2h-1.6zM920.10,614.5h1.6v4.9h-1.6zM922.50,614.5h1.6v4.4h-1.6zM924.90,614.5h1.6v3.3h-1.6zM946.50,614.5h1.6v0.4h-1.6zM948.90,614.5h1.6v0.3h-1.6zM951.30,614.5h1.6v0.4h-1.6zM953.70,614.5h1.6v0.2h-1.6zM994.50,614.5h1.6v0.5h-1.6zM996.90,614.5h1.6v7.4h-1.6zM999.30,614.5h1.6v8.9h-1.6zM1001.70,614.5h1.6v10.8h-1.6zM1004.10,614.5h1.6v13.4h-1.6zM1006.50,614.5h1.6v13.3h-1.6zM1008.90,614.5h1.6v12.5h-1.6zM1011.30,614.5h1.6v12.6h-1.6zM1013.70,614.5h1.6v12.9h-1.6zM1016.10,614.5h1.6v14.1h-1.6zM1018.50,614.5h1.6v13.1h-1.6zM1020.90,614.5h1.6v13.9h-1.6zM1023.30,614.5h1.6v13.4h-1.6zM1025.70,614.5h1.6v13.2h-1.6zM1028.10,614.5h1.6v13.0h-1.6zM1030.50,614.5h1.6v13.5h-1.6zM1032.90,614.5h1.6v13.0h-1.6zM1035.30,614.5h1.6v12.6h-1.6zM1037.70,614.5h1.6v9.3h-1.6zM1040.10,614.5h1.6v7.5h-1.6z" fill="#e0455a"/>
<path d="M0.0,609.6 L1.2,609.6 L2.7,609.5 L4.5,609.4 L6.5,609.3 L8.6,609.2 L10.9,609.1 L13.3,609.1 L15.7,609.0 L18.2,608.9 L20.5,608.9 L22.8,608.9 L25.0,609.0 L27.1,609.1 L29.3,609.2 L31.5,609.4 L33.7,609.6 L35.9,609.8 L38.1,610.0 L40.3,610.2 L42.4,610.5 L44.5,610.7 L46.4,611.0 L48.3,611.2 L50.0,611.5 L52.5,612.0 L54.4,612.6 L56.1,613.2 L57.7,613.8 L59.5,614.3 L61.9,614.7 L65.0,615.0 L66.5,615.1 L68.1,615.1 L69.8,615.1 L71.5,615.1 L73.4,615.0 L75.3,615.0 L77.2,614.9 L79.3,614.8 L81.4,614.7 L83.5,614.6 L85.7,614.5 L88.0,614.4 L90.3,614.3 L92.7,614.2 L95.1,614.1 L97.5,614.1 L100.0,614.0 L101.7,614.0 L103.5,613.9 L105.3,613.9 L107.2,613.8 L109.0,613.8 L111.0,613.8 L112.9,613.7 L114.9,613.7 L116.9,613.6 L118.9,613.6 L121.0,613.6 L123.0,613.5 L125.1,613.5 L127.2,613.4 L129.3,613.4 L131.4,613.4 L133.5,613.3 L135.6,613.3 L137.7,613.2 L139.8,613.2 L141.8,613.2 L143.9,613.1 L146.0,613.1 L148.0,613.0 L150.0,613.0 L152.0,613.0 L154.1,612.9 L156.2,612.9 L158.4,612.9 L160.6,613.0 L162.8,613.0 L165.0,613.0 L167.2,613.0 L169.5,613.1 L171.7,613.1 L173.9,613.1 L176.1,613.1 L178.3,613.1 L180.4,613.1 L182.5,613.1 L184.6,613.1 L186.6,613.1 L188.5,613.0 L190.4,612.9 L192.2,612.8 L194.0,612.7 L195.6,612.6 L197.2,612.4 L198.6,612.2 L200.0,612.0 L204.0,610.8 L206.8,609.2 L208.9,607.3 L210.4,605.3 L211.7,603.5 L213.2,602.0 L215.0,601.0 L217.0,600.6 L218.8,600.5 L220.6,600.7 L222.5,601.1 L224.6,601.7 L227.1,602.4 L230.0,603.0 L231.6,603.3 L233.3,603.8 L235.1,604.3 L237.0,604.9 L239.0,605.5 L241.0,606.1 L243.2,606.8 L245.3,607.4 L247.5,608.0 L249.6,608.5 L251.8,609.0 L253.9,609.3 L256.0,609.5 L258.0,609.6 L260.0,609.6 L262.2,609.3 L264.3,608.8 L266.4,608.1 L268.4,607.3 L270.4,606.4 L272.5,605.3 L274.5,604.3 L276.5,603.2 L278.6,602.1 L280.7,601.2 L282.9,600.3 L285.1,599.6 L287.4,599.0 L289.3,598.6 L291.4,598.3 L293.5,598.1 L295.6,597.9 L297.8,597.7 L300.0,597.5 L302.2,597.4 L304.4,597.3 L306.7,597.3 L308.9,597.3 L311.0,597.3 L313.2,597.3 L315.2,597.4 L317.2,597.4 L319.2,597.5 L321.0,597.6 L323.5,597.8 L325.8,598.0 L327.9,598.3 L330.0,598.6 L332.0,599.0 L333.9,599.4 L335.9,599.8 L337.8,600.4 L339.9,600.9 L342.1,601.5 L344.4,602.2 L346.3,602.8 L348.3,603.4 L350.3,604.1 L352.3,604.8 L354.3,605.6 L356.4,606.4 L358.6,607.2 L360.7,608.0 L362.9,608.9 L365.1,609.7 L367.3,610.5 L369.5,611.3 L371.7,612.0 L374.0,612.7 L376.0,613.3 L378.1,613.9 L380.2,614.6 L382.3,615.3 L384.5,615.9 L386.7,616.6 L388.9,617.2 L391.1,617.9 L393.3,618.5 L395.5,619.0 L397.7,619.5 L399.8,620.0 L401.8,620.4 L403.9,620.8 L405.8,621.0 L407.7,621.2 L410.1,621.3 L412.3,621.2 L414.3,621.0 L416.3,620.6 L418.2,620.2 L420.1,619.7 L422.0,619.2 L423.9,618.6 L426.0,618.1 L428.1,617.7 L430.5,617.3 L433.0,617.0 L434.7,616.9 L436.5,616.7 L438.5,616.6 L440.5,616.5 L442.5,616.4 L444.6,616.3 L446.8,616.2 L449.0,616.1 L451.2,616.1 L453.4,616.0 L455.5,616.0 L457.7,615.9 L459.8,615.9 L461.9,615.9 L463.9,615.9 L465.8,615.9 L467.7,615.9 L469.4,616.0 L471.0,616.0 L473.8,616.2 L476.3,616.5 L478.5,616.9 L480.6,617.3 L482.6,617.8 L484.4,618.2 L486.2,618.6 L488.1,618.9 L490.0,619.0 L492.0,619.0 L494.2,618.8 L496.4,618.4 L498.7,617.9 L501.1,617.3 L503.4,616.6 L505.6,615.9 L507.7,615.2 L509.7,614.6 L511.5,614.1 L513.0,613.8 L514.7,613.7 L514.8,614.2 L520.0,614.0 L521.2,613.9 L522.6,613.7 L524.1,613.6 L525.7,613.4 L527.4,613.2 L529.3,613.1 L531.2,612.9 L533.2,612.7 L535.3,612.4 L537.4,612.2 L539.6,612.0 L541.9,611.7 L544.1,611.5 L546.5,611.2 L548.8,610.9 L551.1,610.7 L553.4,610.4 L555.8,610.1 L558.0,609.8 L560.3,609.5 L562.5,609.2 L564.7,608.9 L566.8,608.6 L568.9,608.3 L570.8,608.0 L572.7,607.7 L574.9,607.3 L577.1,606.8 L579.3,606.4 L581.4,605.8 L583.5,605.3 L585.6,604.7 L587.6,604.2 L589.6,603.6 L591.6,603.0 L593.5,602.4 L595.5,601.8 L597.4,601.3 L599.4,600.7 L601.3,600.2 L603.2,599.8 L605.2,599.3 L607.1,598.9 L609.1,598.6 L611.0,598.3 L613.0,598.1 L615.0,598.0 L617.0,597.9 L619.1,598.0 L621.3,598.1 L623.5,598.3 L625.7,598.6 L627.9,598.9 L630.2,599.2 L632.4,599.6 L634.7,600.0 L636.9,600.5 L639.1,600.9 L641.2,601.3 L643.3,601.7 L645.3,602.1 L647.3,602.5 L649.2,602.8 L651.0,603.1 L652.6,603.3 L654.2,603.5 L655.7,603.5 L657.0,603.5 L661.0,602.9 L663.2,601.6 L664.4,599.8 L665.6,597.6 L667.7,595.0 L669.4,593.3 L671.4,591.1 L673.6,588.7 L675.8,586.2 L678.0,583.7 L680.3,581.4 L682.4,579.2 L684.3,577.5 L686.0,576.3 L689.1,575.3 L691.5,575.9 L693.5,577.3 L695.6,578.6 L698.2,580.0 L700.5,581.8 L703.3,584.3 L705.5,586.4 L708.0,588.9 L710.6,591.5 L713.0,593.9 L714.8,595.8 L715.7,600.2 L718.3,599.3 L719.7,597.7 L721.3,595.5 L723.2,592.8 L725.3,589.7 L727.5,586.3 L729.9,582.8 L732.3,579.4 L734.7,576.1 L737.1,573.2 L739.4,570.7 L741.6,568.8 L743.6,567.7 L745.9,567.4 L748.2,568.1 L750.4,569.5 L752.6,571.5 L754.8,573.7 L756.9,576.1 L759.0,578.4 L761.0,580.3 L762.9,581.7 L764.7,582.4 L767.2,582.1 L769.5,580.8 L771.7,578.9 L773.8,576.8 L775.8,574.6 L777.7,572.9 L779.5,571.9 L781.9,571.5 L784.1,571.9 L786.1,572.6 L788.1,573.8 L790.0,575.0 L792.3,576.5 L794.4,578.1 L796.5,580.6 L799.0,584.5 L800.9,588.4 L802.9,593.2 L805.0,598.5 L807.2,604.1 L809.4,609.3 L811.6,614.0 L813.5,618.2 L815.2,622.3 L816.9,626.2 L818.9,629.6 L821.5,632.6 L825.0,635.0 L826.5,635.7 L828.2,636.3 L830.0,636.8 L831.9,637.3 L833.9,637.7 L836.0,638.0 L838.1,638.3 L840.4,638.6 L842.6,638.7 L844.9,638.8 L847.2,638.9 L849.4,638.9 L851.7,638.8 L853.9,638.7 L856.0,638.5 L858.0,638.3 L860.0,638.0 L862.3,637.5 L864.4,636.9 L866.6,636.1 L868.6,635.2 L870.7,634.1 L872.7,633.0 L874.7,631.9 L876.7,630.7 L878.7,629.5 L880.8,628.4 L882.9,627.3 L885.1,626.3 L887.3,625.4 L889.7,624.6 L891.5,624.1 L893.4,623.6 L895.3,623.2 L897.3,622.8 L899.3,622.4 L901.3,622.1 L903.4,621.8 L905.4,621.4 L907.5,621.1 L909.6,620.9 L911.7,620.6 L913.8,620.3 L915.9,620.0 L917.9,619.8 L920.0,619.5 L922.0,619.2 L923.9,618.9 L925.8,618.6 L927.7,618.3 L930.0,617.9 L932.3,617.5 L934.5,617.2 L936.7,616.9 L938.9,616.6 L941.0,616.3 L943.1,616.0 L945.2,615.7 L947.3,615.3 L949.3,614.9 L951.3,614.4 L953.4,613.9 L955.3,613.4 L957.3,612.7 L959.3,612.0 L961.6,611.0 L963.8,609.7 L966.0,608.2 L968.1,606.6 L970.2,604.9 L972.3,603.2 L974.4,601.5 L976.5,599.9 L978.6,598.5 L980.6,597.2 L982.6,596.1 L984.7,595.4 L986.7,595.0 L988.9,595.0 L991.1,595.3 L993.4,596.0 L995.6,596.9 L997.8,598.0 L1000.0,599.3 L1002.2,600.6 L1004.3,602.0 L1006.3,603.3 L1008.3,604.6 L1010.2,605.8 L1012.0,606.7 L1014.5,607.9 L1016.9,609.0 L1019.2,610.1 L1021.3,611.1 L1023.3,612.1 L1025.2,613.1 L1027.1,614.0 L1029.0,615.0 L1031.5,616.3 L1034.1,617.7 L1036.6,619.0 L1038.8,620.2 L1040.6,621.3 L1042.0,622.0" fill="none" stroke="#74b8cc" stroke-width="1.1"/>
<path d="M0.0,611.0 L1.1,611.0 L2.5,610.9 L4.1,610.8 L5.8,610.7 L7.8,610.6 L9.8,610.5 L12.0,610.4 L14.3,610.3 L16.6,610.2 L18.9,610.1 L21.2,610.0 L23.5,610.0 L25.8,609.9 L27.9,610.0 L30.0,610.0 L32.0,610.1 L33.9,610.2 L35.8,610.4 L37.7,610.6 L39.6,610.8 L41.5,611.0 L43.4,611.2 L45.3,611.5 L47.3,611.7 L49.3,612.0 L51.3,612.2 L53.4,612.4 L55.5,612.6 L57.7,612.8 L60.0,613.0 L61.7,613.1 L63.3,613.2 L64.9,613.3 L66.4,613.4 L67.9,613.6 L69.4,613.7 L70.9,613.8 L72.4,613.9 L74.0,613.9 L75.6,614.0 L77.4,614.1 L79.2,614.2 L81.2,614.3 L83.3,614.3 L85.5,614.4 L88.0,614.4 L90.7,614.5 L93.5,614.5 L96.6,614.5 L100.0,614.5 L101.4,614.5 L103.0,614.5 L104.5,614.5 L106.2,614.5 L107.9,614.5 L109.7,614.5 L111.6,614.5 L113.5,614.5 L115.4,614.5 L117.4,614.5 L119.5,614.5 L121.6,614.5 L123.7,614.5 L125.9,614.5 L128.1,614.4 L130.3,614.4 L132.6,614.4 L134.9,614.4 L137.2,614.4 L139.5,614.4 L141.9,614.4 L144.2,614.3 L146.5,614.3 L148.9,614.3 L151.2,614.3 L153.6,614.3 L155.9,614.2 L158.3,614.2 L160.6,614.2 L162.9,614.1 L165.2,614.1 L167.4,614.1 L169.6,614.0 L171.8,614.0 L174.0,613.9 L176.1,613.9 L178.2,613.9 L180.2,613.8 L182.2,613.8 L184.2,613.7 L186.0,613.6 L187.9,613.6 L189.6,613.5 L191.3,613.5 L193.0,613.4 L194.5,613.3 L196.0,613.2 L197.4,613.2 L198.8,613.1 L200.0,613.0 L205.2,612.5 L209.1,611.9 L211.9,611.1 L213.8,610.4 L215.0,609.5 L215.8,608.7 L216.5,607.9 L217.3,607.2 L218.4,606.5 L220.0,606.0 L222.0,605.6 L223.9,605.2 L225.8,604.8 L227.8,604.6 L229.7,604.3 L231.6,604.1 L233.6,604.0 L235.7,603.9 L237.8,603.9 L240.0,604.0 L241.9,604.2 L243.9,604.4 L245.9,604.8 L248.0,605.2 L250.1,605.7 L252.2,606.2 L254.3,606.7 L256.5,607.1 L258.6,607.5 L260.8,607.8 L262.9,608.0 L265.0,608.0 L267.1,607.9 L269.1,607.7 L271.1,607.4 L273.1,607.0 L275.2,606.5 L277.2,606.0 L279.2,605.5 L281.3,604.9 L283.4,604.4 L285.5,603.9 L287.7,603.4 L290.0,603.0 L291.9,602.7 L293.7,602.4 L295.7,602.1 L297.6,601.7 L299.6,601.4 L301.6,601.1 L303.7,600.8 L305.7,600.5 L307.8,600.2 L309.8,599.9 L311.9,599.7 L313.9,599.5 L316.0,599.3 L318.0,599.1 L320.0,599.0 L322.0,598.9 L324.0,598.8 L326.0,598.8 L328.0,598.7 L330.0,598.7 L332.0,598.7 L334.0,598.7 L336.0,598.8 L338.0,598.9 L340.0,599.0 L342.0,599.1 L344.0,599.3 L346.0,599.5 L348.0,599.7 L350.0,600.0 L352.0,600.3 L354.0,600.7 L356.0,601.1 L358.0,601.6 L360.0,602.1 L362.0,602.6 L364.0,603.2 L366.0,603.8 L368.0,604.4 L370.0,605.0 L372.0,605.6 L374.0,606.2 L376.0,606.8 L378.0,607.4 L380.0,608.0 L382.0,608.6 L384.0,609.2 L386.0,609.8 L388.0,610.5 L390.0,611.2 L392.0,611.9 L394.0,612.5 L396.0,613.2 L398.0,613.9 L400.0,614.5 L402.0,615.1 L404.0,615.6 L406.0,616.1 L408.0,616.6 L410.0,617.0 L412.0,617.3 L413.9,617.6 L415.8,617.9 L417.7,618.1 L419.6,618.3 L421.5,618.5 L423.4,618.6 L425.3,618.7 L427.3,618.8 L429.3,618.9 L431.3,618.9 L433.4,619.0 L435.5,619.0 L437.7,619.0 L440.0,619.0 L441.8,619.0 L443.6,618.9 L445.5,618.9 L447.4,618.8 L449.3,618.7 L451.3,618.6 L453.3,618.5 L455.3,618.3 L457.3,618.2 L459.4,618.0 L461.4,617.9 L463.5,617.8 L465.6,617.6 L467.7,617.5 L469.8,617.4 L471.8,617.3 L473.9,617.2 L476.0,617.1 L478.0,617.0 L480.0,617.0 L482.0,617.0 L484.0,617.0 L486.0,617.1 L488.0,617.2 L490.0,617.3 L492.0,617.4 L494.0,617.5 L496.0,617.6 L498.0,617.8 L500.0,617.9 L502.0,618.0 L504.0,618.2 L506.0,618.3 L508.0,618.4 L510.0,618.4 L512.0,618.5 L514.0,618.5 L516.0,618.5 L518.0,618.4 L520.0,618.3 L522.0,618.2 L524.0,618.0 L526.0,617.8 L527.9,617.6 L529.9,617.3 L531.9,617.0 L533.8,616.7 L535.8,616.4 L537.8,616.1 L539.7,615.8 L541.7,615.4 L543.7,615.0 L545.7,614.7 L547.7,614.3 L549.7,613.9 L551.7,613.5 L553.8,613.1 L555.8,612.8 L557.9,612.4 L560.0,612.0 L561.9,611.7 L563.8,611.3 L565.8,610.9 L567.7,610.5 L569.6,610.0 L571.6,609.6 L573.5,609.2 L575.5,608.7 L577.4,608.3 L579.4,607.8 L581.4,607.4 L583.4,606.9 L585.4,606.5 L587.5,606.1 L589.5,605.7 L591.6,605.3 L593.7,604.9 L595.8,604.6 L597.9,604.2 L600.0,604.0 L602.2,603.7 L604.4,603.5 L606.3,603.4 L608.3,603.3 L610.3,603.2 L612.3,603.1 L614.4,603.1 L616.6,603.2 L618.8,603.2 L621.0,603.3 L623.2,603.3 L625.4,603.4 L627.6,603.5 L629.8,603.6 L632.0,603.7 L634.2,603.8 L636.4,603.9 L638.6,604.0 L640.7,604.0 L642.7,604.1 L644.7,604.1 L646.7,604.1 L648.6,604.1 L650.5,604.0 L652.2,604.0 L653.9,603.9 L655.5,603.7 L657.0,603.5 L660.2,602.9 L663.0,602.1 L665.5,601.2 L667.7,600.2 L669.7,599.1 L671.5,597.9 L673.2,596.7 L674.8,595.5 L676.4,594.3 L678.2,593.1 L680.0,592.0 L682.3,590.6 L684.5,588.9 L686.6,587.1 L688.6,585.4 L690.7,583.7 L692.7,582.3 L694.8,581.1 L697.0,580.4 L699.3,580.3 L701.2,580.8 L703.2,581.9 L705.2,583.4 L707.2,585.3 L709.2,587.3 L711.3,589.4 L713.4,591.3 L715.6,593.0 L717.8,594.3 L720.1,595.0 L722.5,595.0 L724.4,594.4 L726.5,593.4 L728.6,592.0 L730.8,590.3 L733.0,588.3 L735.3,586.2 L737.6,584.0 L739.8,581.7 L742.1,579.5 L744.2,577.5 L746.3,575.6 L748.3,574.0 L750.2,572.7 L752.0,571.9 L754.5,571.3 L756.8,571.4 L758.9,572.1 L760.8,573.1 L762.6,574.2 L764.4,575.5 L766.2,576.6 L768.1,577.5 L770.0,578.0 L772.0,578.1 L774.1,578.0 L776.2,577.7 L778.3,577.3 L780.3,576.9 L782.4,576.5 L784.3,576.2 L786.2,576.0 L788.0,576.0 L790.4,576.0 L792.4,575.9 L794.3,575.9 L796.3,576.5 L798.4,577.8 L801.0,580.3 L802.8,582.5 L804.7,585.4 L806.8,588.7 L809.0,592.4 L811.2,596.3 L813.4,600.2 L815.7,604.1 L817.9,607.8 L820.0,611.1 L822.0,614.0 L824.0,616.8 L825.8,619.4 L827.4,621.8 L829.0,624.0 L830.7,626.0 L832.5,627.8 L834.6,629.4 L837.1,630.8 L840.0,632.0 L841.5,632.4 L843.1,632.8 L844.8,633.2 L846.6,633.5 L848.5,633.7 L850.4,633.9 L852.4,634.1 L854.4,634.2 L856.5,634.3 L858.6,634.3 L860.8,634.3 L862.9,634.3 L865.1,634.2 L867.3,634.1 L869.5,634.0 L871.6,633.8 L873.8,633.7 L875.9,633.5 L878.0,633.2 L880.0,633.0 L882.0,632.7 L884.0,632.4 L886.0,632.0 L888.0,631.5 L890.0,631.0 L892.0,630.5 L894.0,629.9 L896.0,629.3 L898.0,628.6 L900.0,628.0 L902.0,627.3 L904.0,626.7 L906.0,626.0 L908.0,625.4 L910.0,624.8 L912.0,624.1 L914.0,623.5 L916.0,623.0 L918.0,622.5 L920.0,622.0 L922.0,621.6 L924.0,621.2 L926.1,620.8 L928.1,620.5 L930.2,620.2 L932.3,619.9 L934.4,619.6 L936.4,619.3 L938.5,619.1 L940.6,618.8 L942.6,618.5 L944.6,618.2 L946.7,617.9 L948.7,617.6 L950.6,617.3 L952.6,616.9 L954.5,616.5 L956.4,616.0 L958.2,615.5 L960.0,615.0 L962.4,614.2 L964.7,613.2 L967.0,612.1 L969.2,610.9 L971.4,609.7 L973.6,608.4 L975.8,607.1 L977.9,605.8 L979.9,604.5 L981.9,603.3 L983.8,602.3 L985.7,601.3 L987.5,600.4 L989.3,599.8 L991.0,599.3 L993.6,598.9 L996.0,598.9 L998.2,599.2 L1000.3,599.7 L1002.2,600.4 L1004.1,601.3 L1006.0,602.2 L1008.0,603.1 L1010.0,604.0 L1012.1,604.9 L1014.3,606.0 L1016.6,607.2 L1018.8,608.4 L1021.0,609.7 L1023.1,610.9 L1025.2,612.1 L1027.2,613.1 L1029.0,614.0 L1031.7,615.1 L1034.3,615.9 L1036.7,616.6 L1038.9,617.2 L1040.7,617.6 L1042.0,618.0" fill="none" stroke="#eec46a" stroke-width="1.1"/>
</g>
<text x="1257.5" y="63.3" font-family="Liberation Sans, sans-serif" font-size="9.6" text-anchor="middle" fill="#555" textLength="31.5" lengthAdjust="spacingAndGlyphs" >18.6593</text>
<text x="1257.5" y="103.60000000000001" font-family="Liberation Sans, sans-serif" font-size="9.6" text-anchor="middle" fill="#555" textLength="31.5" lengthAdjust="spacingAndGlyphs" >15.6361</text>
<text x="1257.5" y="143.9" font-family="Liberation Sans, sans-serif" font-size="9.6" text-anchor="middle" fill="#555" textLength="31.5" lengthAdjust="spacingAndGlyphs" >13.1028</text>
<text x="1257.5" y="184.1" font-family="Liberation Sans, sans-serif" font-size="9.6" text-anchor="middle" fill="#555" textLength="31.5" lengthAdjust="spacingAndGlyphs" >10.9799</text>
<text x="1257.5" y="224.4" font-family="Liberation Sans, sans-serif" font-size="9.6" text-anchor="middle" fill="#555" textLength="27.0" lengthAdjust="spacingAndGlyphs" >9.2009</text>
<text x="1257.5" y="264.7" font-family="Liberation Sans, sans-serif" font-size="9.6" text-anchor="middle" fill="#555" textLength="27.0" lengthAdjust="spacingAndGlyphs" >7.7101</text>
<text x="1257.5" y="305.0" font-family="Liberation Sans, sans-serif" font-size="9.6" text-anchor="middle" fill="#555" textLength="27.0" lengthAdjust="spacingAndGlyphs" >6.4609</text>
<text x="1257.5" y="345.29999999999995" font-family="Liberation Sans, sans-serif" font-size="9.6" text-anchor="middle" fill="#555" textLength="27.0" lengthAdjust="spacingAndGlyphs" >5.4141</text>
<text x="1257.5" y="385.5" font-family="Liberation Sans, sans-serif" font-size="9.6" text-anchor="middle" fill="#555" textLength="27.0" lengthAdjust="spacingAndGlyphs" >4.5369</text>
<text x="1257.5" y="425.79999999999995" font-family="Liberation Sans, sans-serif" font-size="9.6" text-anchor="middle" fill="#555" textLength="27.0" lengthAdjust="spacingAndGlyphs" >3.8018</text>
<rect x="1233.5" y="108" width="46.5" height="16" fill="#d6565d"/>
<line x1="1234.5" y1="116" x2="1238" y2="116" stroke="#fff" stroke-width="1"/>
<text x="1257.5" y="119.4" font-family="Liberation Sans, sans-serif" font-size="9.6" text-anchor="middle" fill="#fff" textLength="31.5" lengthAdjust="spacingAndGlyphs" >14.5560</text>
<text x="1256.8" y="480" text-anchor="middle" font-family="Liberation Sans, sans-serif" font-size="9.6" fill="#555" textLength="25.8" lengthAdjust="spacingAndGlyphs">2.00M</text>
<rect x="1233.5" y="520.7" width="46.5" height="15.5" fill="#f2aa3a"/>
<line x1="1234.5" y1="528.5" x2="1238" y2="528.5" stroke="#fff" stroke-width="1"/>
<text x="1257.2" y="532" text-anchor="middle" font-family="Liberation Sans, sans-serif" font-size="9.6" font-weight="bold" fill="#fff" textLength="24" lengthAdjust="spacingAndGlyphs">97.6k</text>
<text x="1257.5" y="583.4" font-family="Liberation Sans, sans-serif" font-size="9.6" text-anchor="middle" fill="#555" textLength="27.0" lengthAdjust="spacingAndGlyphs" >1.0000</text>
<text x="1257.5" y="617.9" font-family="Liberation Sans, sans-serif" font-size="9.6" text-anchor="middle" fill="#555" textLength="27.0" lengthAdjust="spacingAndGlyphs" >0.0000</text>
</svg>
<svg width="1280" height="625" style="position:absolute;left:0;top:0">
<rect x="0" y="0" width="20" height="15" fill="#edf3fc"/>
<rect x="291" y="0" width="18.5" height="15" fill="#edf3fc"/>
<path d="M10.8,0 V4.3 M10.8,7.6 V12 M4.6,5.9 H9.2 M12.5,5.9 H17" stroke="#7d9fd6" stroke-width="1.3"/>
<path d="M21,5.2 L25,5.2 L23,7.8 Z" fill="#8a8a8a"/>
<path d="M50,5.2 L54,5.2 L52,7.8 Z" fill="#8a8a8a"/>
<path d="M79.5,5.2 L83.5,5.2 L81.5,7.8 Z" fill="#8a8a8a"/>
<path d="M108.6,5.2 L112.6,5.2 L110.6,7.8 Z" fill="#8a8a8a"/>
<path d="M137,5.2 L141,5.2 L139,7.8 Z" fill="#8a8a8a"/>
<path d="M166,5.2 L170,5.2 L168,7.8 Z" fill="#8a8a8a"/>
<path d="M195.2,5.2 L199.2,5.2 L197.2,7.8 Z" fill="#8a8a8a"/>
<path d="M34.4,4 V8.2 M44.5,4 V8.2 M34.4,6.1 H44.5" stroke="#6b6b6b" stroke-width="1"/>
<path d="M62.6,7.4 L70.5,0 M64.6,10.5 L73.6,2.3" stroke="#6b6b6b" stroke-width="1.1"/><circle cx="66.5" cy="3.8" r="1.1" fill="#444"/><circle cx="70.4" cy="5.5" r="1.1" fill="#444"/>
<rect x="92.8" y="1.8" width="9" height="7.6" fill="none" stroke="#6b6b6b" stroke-width="1.2"/><rect x="96.8" y="5.2" width="1" height="1" fill="#6b6b6b"/>
<path d="M121.5,2.5 H130.5 M121.5,5.5 H130.5 M121.5,8.6 H130.5" stroke="#6b6b6b" stroke-width="1.1"/>
<path d="M149.6,1 L150.5,7.6 L153.7,3.5 L155.6,7.8 L159.8,3.2" stroke="#6b6b6b" stroke-width="1.2" fill="none" stroke-linejoin="round"/><path d="M161.3,6 V9.8" stroke="#6b6b6b" stroke-width="0.9"/>
<rect x="179.3" y="0.8" width="9.5" height="8.6" fill="none" stroke="#6b6b6b" stroke-width="1.1"/><path d="M184,3 V8 M181.5,5.5 H186.5" stroke="#6b6b6b" stroke-width="0.9"/><rect x="178.3" y="8.4" width="2" height="2" fill="#6b6b6b"/><rect x="187.8" y="-0.2" width="2" height="2" fill="#6b6b6b"/>
<text x="207" y="9.6" font-family="Liberation Sans, sans-serif" font-size="11.5" fill="#666" textLength="13" lengthAdjust="spacingAndGlyphs">Aa</text>
<g stroke="#6b6b6b" stroke-width="1.1" fill="none"><path d="M231.8,6.2 L236.2,1.8 Q237.6,0.6 238.9,1.9 Q240.1,3.2 238.9,4.5 L234.5,8.9"/><circle cx="232.2" cy="8.3" r="1.9"/><circle cx="230.6" cy="2.6" r="1.4"/><path d="M233.3,3.6 L236.6,6.9"/></g><g fill="#6b6b6b"><circle cx="235.6" cy="10.1" r="0.8"/><circle cx="237.5" cy="10.1" r="0.8"/><circle cx="239.4" cy="10.1" r="0.8"/></g>
<g stroke="#6b6b6b" stroke-width="1.1" fill="none"><circle cx="253.6" cy="6.9" r="3.1"/><circle cx="257.3" cy="4" r="3.1"/><path d="M252.3,8.6 L259,2.2"/></g>
<g stroke="#6b6b6b" stroke-width="1.1" fill="none"><rect x="270.5" y="3" width="12" height="4.6" rx="1" transform="rotate(-40 276.5 5.3)"/><path d="M274,7 l2,-2 M276.5,5 l2,-2"/></g>
<g stroke="#6f8fc4" stroke-width="1.1" fill="none"><path d="M294,9.5 L302,1.5 L304,3.5 L296,11.5 Z"/><path d="M300.5,10 q2,-2 3,0 t3,-1"/></g>
<g stroke="#555" stroke-width="1" fill="none"><rect x="316.3" y="2.6" width="2.6" height="5.6" rx="0.8"/><rect x="320.7" y="2.6" width="2.6" height="5.6" rx="0.8"/><rect x="325.1" y="2.6" width="2.6" height="5.6" rx="0.8"/><path d="M317.6,0.3 V2.6 M317.6,8.2 V10.5 M322,0.3 V2.6 M322,8.2 V10.5 M326.4,0.3 V2.6 M326.4,8.2 V10.5"/></g>
<g stroke="#6b6b6b" stroke-width="1.1" fill="none"><rect x="338.3" y="4" width="8.2" height="6"/><path d="M340.5,4 V1.5 H344"/><path d="M342.4,6.3 v1.2"/></g>
<g stroke="#6b6b6b" stroke-width="1.1" fill="none"><path d="M358.5,8.5 V0.8 H365"/><path d="M360.5,2.5 H367.3 V10 L364,8 L360.5,10 Z"/></g>
<g stroke="#6b6b6b" stroke-width="1.1" fill="none"><path d="M378.3,1 H390 V10 H378.3 Z"/><path d="M380,4 H383.5 M380,6.5 H382.5"/></g><path d="M384.5,10 L389.8,4.5 V10 Z" fill="#6b6b6b"/>
<g stroke="#6b6b6b" stroke-width="1.1" fill="none"><path d="M400.5,2.5 H410.5 M403.5,2.5 V0.6 H407.5 V2.5"/><rect x="401.5" y="2.5" width="8" height="7.5"/><path d="M404.3,5 V8 M406.7,5 V8"/></g>
<text x="-3.4" y="30.6" font-family="Noto Sans CJK SC, sans-serif" font-size="10.2" font-weight="500" fill="#333">时间</text>
<text x="16.3" y="30.6" font-family="Liberation Sans, sans-serif" font-size="9.5" fill="#555">:</text>
<text x="19.1" y="30.6" font-family="Liberation Sans, Noto Sans CJK SC, sans-serif" font-size="10.4" fill="#333" textLength="74" lengthAdjust="spacingAndGlyphs" >2020-09-03 16:00</text>
<text x="98.3" y="30.6" font-family="Noto Sans CJK SC, sans-serif" font-size="10.2" font-weight="500" fill="#333">开</text>
<text x="108.55" y="30.6" font-family="Liberation Sans, sans-serif" font-size="9.5" fill="#555">:</text>
<text x="111.25" y="30.6" font-family="Liberation Sans, Noto Sans CJK SC, sans-serif" font-size="10.4" fill="#dc6074" textLength="33.75" lengthAdjust="spacingAndGlyphs" >14.5810</text>
<text x="150.2" y="30.6" font-family="Noto Sans CJK SC, sans-serif" font-size="10.2" font-weight="500" fill="#333">高</text>
<text x="160.4" y="30.6" font-family="Liberation Sans, sans-serif" font-size="9.5" fill="#555">:</text>
<text x="163.1" y="30.6" font-family="Liberation Sans, Noto Sans CJK SC, sans-serif" font-size="10.4" fill="#dc6074" textLength="33.9" lengthAdjust="spacingAndGlyphs" >14.7190</text>
<text x="202.2" y="30.6" font-family="Noto Sans CJK SC, sans-serif" font-size="10.2" font-weight="500" fill="#333">低</text>
<text x="211.05" y="30.6" font-family="Liberation Sans, sans-serif" font-size="9.5" fill="#555">:</text>
<text x="213.75" y="30.6" font-family="Liberation Sans, Noto Sans CJK SC, sans-serif" font-size="10.4" fill="#dc6074" textLength="35" lengthAdjust="spacingAndGlyphs" >14.3890</text>
<text x="253.8" y="30.6" font-family="Noto Sans CJK SC, sans-serif" font-size="10.2" font-weight="500" fill="#333">收</text>
<text x="264.5" y="30.6" font-family="Liberation Sans, sans-serif" font-size="9.5" fill="#555">:</text>
<text x="267.2" y="30.6" font-family="Liberation Sans, Noto Sans CJK SC, sans-serif" font-size="10.4" fill="#dc6074" textLength="33.7" lengthAdjust="spacingAndGlyphs" >14.5560</text>
<text x="306.3" y="30.6" font-family="Noto Sans CJK SC, sans-serif" font-size="10.2" font-weight="500" fill="#333">涨幅</text>
<text x="325.3" y="30.6" font-family="Liberation Sans, sans-serif" font-size="9.5" fill="#555">:</text>
<text x="328" y="30.6" font-family="Liberation Sans, Noto Sans CJK SC, sans-serif" font-size="10.4" fill="#dc6074" textLength="67.2" lengthAdjust="spacingAndGlyphs" >-0.04%(-0.0060)</text>
<text x="399.8" y="30.6" font-family="Noto Sans CJK SC, sans-serif" font-size="10.2" font-weight="500" fill="#333">振幅</text>
<text x="417.1" y="30.6" font-family="Liberation Sans, sans-serif" font-size="9.5" fill="#555">:</text>
<text x="419.8" y="30.6" font-family="Liberation Sans, Noto Sans CJK SC, sans-serif" font-size="10.4" fill="#dc6074" textLength="27.1" lengthAdjust="spacingAndGlyphs" >2.27%</text>
<text x="20" y="45.3" font-family="Liberation Sans, Noto Sans CJK SC, sans-serif" font-size="10" fill="#333" textLength="13.7" lengthAdjust="spacingAndGlyphs" >MA</text>
<text x="72.5" y="45.3" font-family="Liberation Sans, Noto Sans CJK SC, sans-serif" font-size="10.4" fill="#eebc3c" textLength="69.5" lengthAdjust="spacingAndGlyphs" >MA(30):16.0006</text>
<text x="146.9" y="45.3" font-family="Liberation Sans, Noto Sans CJK SC, sans-serif" font-size="10.4" fill="#dc84d8" textLength="68.7" lengthAdjust="spacingAndGlyphs" >MA(60):15.4646</text>
<text x="221.2" y="45.3" font-family="Liberation Sans, Noto Sans CJK SC, sans-serif" font-size="10.4" fill="#62b2de" textLength="73.8" lengthAdjust="spacingAndGlyphs" >MA(365):10.9971</text>
<text x="19.7" y="445.2" font-family="Liberation Sans, Noto Sans CJK SC, sans-serif" font-size="10" fill="#333" textLength="36.7" lengthAdjust="spacingAndGlyphs" >VOLUME</text>
<text x="92.8" y="445.2" font-family="Liberation Sans, Noto Sans CJK SC, sans-serif" font-size="10" fill="#333" textLength="92.6" lengthAdjust="spacingAndGlyphs" >VOLUME:97,639.9150</text>
<text x="191.3" y="445.2" font-family="Liberation Sans, Noto Sans CJK SC, sans-serif" font-size="10" fill="#5cc6b5" textLength="87.6" lengthAdjust="spacingAndGlyphs" >MA(5):287,231.3088</text>
<text x="283.8" y="445.2" font-family="Liberation Sans, Noto Sans CJK SC, sans-serif" font-size="10" fill="#f0b429" textLength="93.5" lengthAdjust="spacingAndGlyphs" >MA(10):308,581.4133</text>
<text x="19.3" y="562.3" font-family="Liberation Sans, Noto Sans CJK SC, sans-serif" font-size="9.6" fill="#333" textLength="65.3" lengthAdjust="spacingAndGlyphs" >MACD(12,26,9)</text>
<text x="119.9" y="562.3" font-family="Liberation Sans, Noto Sans CJK SC, sans-serif" font-size="9.6" fill="#5cc6b5" textLength="48.1" lengthAdjust="spacingAndGlyphs" >DIF:-0.3797</text>
<text x="174" y="562.3" font-family="Liberation Sans, Noto Sans CJK SC, sans-serif" font-size="9.6" fill="#f0b429" textLength="52.3" lengthAdjust="spacingAndGlyphs" >DEA:-0.2117</text>
<text x="231.5" y="562.3" font-family="Liberation Sans, Noto Sans CJK SC, sans-serif" font-size="9.6" fill="#e0566a" textLength="61.1" lengthAdjust="spacingAndGlyphs" >MACD:-0.3360</text>
<text x="1.3" y="546.8" font-family="Liberation Sans, Noto Sans CJK SC, sans-serif" font-size="9.3" fill="#555" textLength="14.2" lengthAdjust="spacingAndGlyphs" >MA</text>
<text x="24.5" y="546.8" font-family="Liberation Sans, Noto Sans CJK SC, sans-serif" font-size="9.3" fill="#555" textLength="19.8" lengthAdjust="spacingAndGlyphs" >EMA</text>
<text x="52.8" y="546.8" font-family="Liberation Sans, Noto Sans CJK SC, sans-serif" font-size="9.3" fill="#6b93cc" textLength="37.4" lengthAdjust="spacingAndGlyphs" >VOLUME</text>
<text x="99.3" y="546.8" font-family="Liberation Sans, Noto Sans CJK SC, sans-serif" font-size="9.3" fill="#aaa" textLength="26.5" lengthAdjust="spacingAndGlyphs" >MACD</text>
<text x="134" y="546.8" font-family="Liberation Sans, Noto Sans CJK SC, sans-serif" font-size="9.3" fill="#555" textLength="17.6" lengthAdjust="spacingAndGlyphs" >DMI</text>
<text x="159.8" y="546.8" font-family="Liberation Sans, Noto Sans CJK SC, sans-serif" font-size="9.3" fill="#555" textLength="20.7" lengthAdjust="spacingAndGlyphs" >DMA</text>
<text x="189.5" y="546.8" font-family="Liberation Sans, Noto Sans CJK SC, sans-serif" font-size="9.3" fill="#555" textLength="19.3" lengthAdjust="spacingAndGlyphs" >TRIX</text>
<text x="217.3" y="546.8" font-family="Liberation Sans, Noto Sans CJK SC, sans-serif" font-size="9.3" fill="#555" textLength="24.3" lengthAdjust="spacingAndGlyphs" >BRAR</text>
<text x="250" y="546.8" font-family="Liberation Sans, Noto Sans CJK SC, sans-serif" font-size="9.3" fill="#555" textLength="11" lengthAdjust="spacingAndGlyphs" >VR</text>
<text x="270" y="546.8" font-family="Liberation Sans, Noto Sans CJK SC, sans-serif" font-size="9.3" fill="#555" textLength="18.7" lengthAdjust="spacingAndGlyphs" >OBV</text>
<text x="296.5" y="546.8" font-family="Liberation Sans, Noto Sans CJK SC, sans-serif" font-size="9.3" fill="#555" textLength="20.1" lengthAdjust="spacingAndGlyphs" >EMV</text>
<text x="325.2" y="546.8" font-family="Liberation Sans, Noto Sans CJK SC, sans-serif" font-size="9.3" fill="#555" textLength="14.1" lengthAdjust="spacingAndGlyphs" >RSI</text>
<text x="347" y="546.8" font-family="Liberation Sans, Noto Sans CJK SC, sans-serif" font-size="9.3" fill="#555" textLength="14.8" lengthAdjust="spacingAndGlyphs" >WR</text>
<text x="369.8" y="546.8" font-family="Liberation Sans, Noto Sans CJK SC, sans-serif" font-size="9.3" fill="#555" textLength="17.7" lengthAdjust="spacingAndGlyphs" >SAR</text>
<text x="396" y="546.8" font-family="Liberation Sans, Noto Sans CJK SC, sans-serif" font-size="9.3" fill="#555" textLength="16" lengthAdjust="spacingAndGlyphs" >KDJ</text>
<text x="421.8" y="546.8" font-family="Liberation Sans, Noto Sans CJK SC, sans-serif" font-size="9.3" fill="#555" textLength="18.1" lengthAdjust="spacingAndGlyphs" >ROC</text>
<text x="448.4" y="546.8" font-family="Liberation Sans, Noto Sans CJK SC, sans-serif" font-size="9.3" fill="#555" textLength="22.4" lengthAdjust="spacingAndGlyphs" >MTM</text>
<text x="479.3" y="546.8" font-family="Liberation Sans, Noto Sans CJK SC, sans-serif" font-size="9.3" fill="#555" textLength="22.4" lengthAdjust="spacingAndGlyphs" >BOLL</text>
<text x="510.3" y="546.8" font-family="Liberation Sans, Noto Sans CJK SC, sans-serif" font-size="9.3" fill="#555" textLength="17.2" lengthAdjust="spacingAndGlyphs" >PSY</text>
<text x="536" y="546.8" font-family="Liberation Sans, Noto Sans CJK SC, sans-serif" font-size="9.3" fill="#555" textLength="38.7" lengthAdjust="spacingAndGlyphs" >StochRSI</text>
<text x="583" y="546.8" font-family="Liberation Sans, Noto Sans CJK SC, sans-serif" font-size="9.3" fill="#555" textLength="16.2" lengthAdjust="spacingAndGlyphs" >SMI</text>
<text x="607.4" y="546.8" font-family="Liberation Sans, Noto Sans CJK SC, sans-serif" font-size="9.3" fill="#555" textLength="15.5" lengthAdjust="spacingAndGlyphs" >CCI</text>
<text x="631.4" y="546.8" font-family="Liberation Sans, Noto Sans CJK SC, sans-serif" font-size="9.3" fill="#555" textLength="15.5" lengthAdjust="spacingAndGlyphs" >MFI</text>
<text x="656" y="546.8" font-family="Liberation Sans, Noto Sans CJK SC, sans-serif" font-size="9.3" fill="#555" textLength="17" lengthAdjust="spacingAndGlyphs" >ATR</text>
<text x="681.2" y="546.8" font-family="Liberation Sans, Noto Sans CJK SC, sans-serif" font-size="9.3" fill="#555" textLength="20.2" lengthAdjust="spacingAndGlyphs" >BBW</text>
<text x="709.6" y="546.8" font-family="Liberation Sans, Noto Sans CJK SC, sans-serif" font-size="9.3" fill="#555" textLength="23.2" lengthAdjust="spacingAndGlyphs" >SKDJ</text>
<text x="741.3" y="546.8" font-family="Liberation Sans, Noto Sans CJK SC, sans-serif" font-size="9.3" fill="#555" textLength="20.7" lengthAdjust="spacingAndGlyphs" >BIAS</text>
<text x="770.2" y="546.8" font-family="Liberation Sans, Noto Sans CJK SC, sans-serif" font-size="9.3" fill="#555" textLength="18.8" lengthAdjust="spacingAndGlyphs" >DPO</text>
<text x="797.8" y="546.8" font-family="Liberation Sans, Noto Sans CJK SC, sans-serif" font-size="9.3" fill="#555" textLength="12.4" lengthAdjust="spacingAndGlyphs" >AO</text>
<text x="818.7" y="546.8" font-family="Liberation Sans, Noto Sans CJK SC, sans-serif" font-size="9.3" fill="#555" textLength="34.8" lengthAdjust="spacingAndGlyphs" >Position</text>
<text x="861.7" y="546.8" font-family="Liberation Sans, Noto Sans CJK SC, sans-serif" font-size="9.3" fill="#555" textLength="39.2" lengthAdjust="spacingAndGlyphs" >Fundflow</text>
<text x="909.4" y="546.8" font-family="Liberation Sans, Noto Sans CJK SC, sans-serif" font-size="9.3" fill="#555" textLength="44.6" lengthAdjust="spacingAndGlyphs" >AI-NetVOL</text>
<text x="961.6" y="546.8" font-family="Liberation Sans, Noto Sans CJK SC, sans-serif" font-size="9.3" fill="#555" textLength="23.2" lengthAdjust="spacingAndGlyphs" >LSUR</text>
<text x="993.8" y="546.8" font-family="Liberation Sans, Noto Sans CJK SC, sans-serif" font-size="9.3" fill="#555" textLength="25.2" lengthAdjust="spacingAndGlyphs" >BASIS</text>
<text x="1027.3" y="546.8" font-family="Liberation Sans, Noto Sans CJK SC, sans-serif" font-size="9.3" fill="#555" textLength="38.7" lengthAdjust="spacingAndGlyphs" >TVolume</text>
<text x="1075" y="546.8" font-family="Liberation Sans, Noto Sans CJK SC, sans-serif" font-size="9.3" fill="#555" textLength="22" lengthAdjust="spacingAndGlyphs" >FTBS</text>
<text x="1106" y="546.8" font-family="Liberation Sans, Noto Sans CJK SC, sans-serif" font-size="9.3" fill="#555" textLength="19.3" lengthAdjust="spacingAndGlyphs" >TTSI</text>
<text x="1133.6" y="546.8" font-family="Liberation Sans, Noto Sans CJK SC, sans-serif" font-size="9.3" fill="#555" textLength="25.7" lengthAdjust="spacingAndGlyphs" >TTMU</text>
<text x="1167.8" y="546.8" font-family="Liberation Sans, Noto Sans CJK SC, sans-serif" font-size="9.3" fill="#555" textLength="25.8" lengthAdjust="spacingAndGlyphs" >AI-BSI</text>
<text x="1202" y="546.8" font-family="Liberation Sans, Noto Sans CJK SC, sans-serif" font-size="9.3" fill="#555" textLength="18.7" lengthAdjust="spacingAndGlyphs" >MLR</text>
<rect x="40.599999999999994" y="36.400000000000006" width="11" height="10.6" rx="1" fill="#a0a0a0"/><circle cx="46.099999999999994" cy="41.7" r="3.4" fill="#fff"/><circle cx="46.099999999999994" cy="41.7" r="1.3" fill="#8a8a8a"/><rect x="56.2" y="36.7" width="10" height="10" rx="1" fill="#9a9a9a"/><path d="M58.7,39.2 L63.7,44.2 M63.7,39.2 L58.7,44.2" stroke="#fff" stroke-width="1.6"/><path d="M5.3,40.1 L8.7,43.300000000000004 L12.1,40.1" stroke="#b8b8b8" stroke-width="1.4" fill="none"/>
<rect x="60.5" y="435.4" width="11" height="10.6" rx="1" fill="#a0a0a0"/><circle cx="66.0" cy="440.7" r="3.4" fill="#fff"/><circle cx="66.0" cy="440.7" r="1.3" fill="#8a8a8a"/><rect x="77" y="435.7" width="10" height="10" rx="1" fill="#9a9a9a"/><path d="M79.5,438.2 L84.5,443.2 M84.5,438.2 L79.5,443.2" stroke="#fff" stroke-width="1.6"/><path d="M4.3,439.09999999999997 L7.7,442.3 L11.1,439.09999999999997" stroke="#b8b8b8" stroke-width="1.4" fill="none"/>
<rect x="88.0" y="553.6" width="11" height="10.6" rx="1" fill="#a0a0a0"/><circle cx="93.5" cy="558.9" r="3.4" fill="#fff"/><circle cx="93.5" cy="558.9" r="1.3" fill="#8a8a8a"/><rect x="104" y="553.9" width="10" height="10" rx="1" fill="#9a9a9a"/><path d="M106.5,556.4 L111.5,561.4 M111.5,556.4 L106.5,561.4" stroke="#fff" stroke-width="1.6"/><path d="M4.3,557.3 L7.7,560.5 L11.1,557.3" stroke="#b8b8b8" stroke-width="1.4" fill="none"/>
</svg>
</div></body></html>
